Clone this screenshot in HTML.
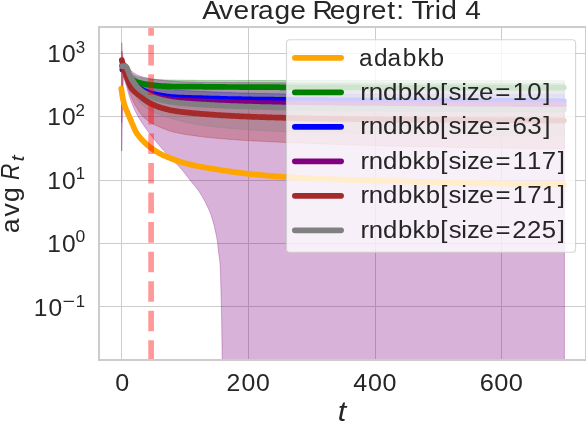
<!DOCTYPE html>
<html lang="en"><head><meta charset="utf-8"><title>Average Regret: Trid 4</title>
<style>html,body{margin:0;padding:0;background:#ffffff;}body{width:586px;height:426px;overflow:hidden;font-family:"Liberation Sans",sans-serif;}svg{display:block;will-change:transform;}</style></head>
<body>
<svg width="586" height="426" viewBox="0 0 586 426" role="img" aria-label="Average Regret: Trid 4" font-family="'Liberation Sans', sans-serif">
<rect width="586" height="426" fill="#ffffff"/>
<defs><clipPath id="ax"><rect x="99.0" y="27.0" width="487.0" height="333.0"/></clipPath></defs>
<g stroke="#cccccc" stroke-width="1.05" shape-rendering="crispEdges">
<line x1="121.5" y1="27.0" x2="121.5" y2="360.0"/>
<line x1="248.5" y1="27.0" x2="248.5" y2="360.0"/>
<line x1="375.5" y1="27.0" x2="375.5" y2="360.0"/>
<line x1="501.5" y1="27.0" x2="501.5" y2="360.0"/>
<line x1="99.0" y1="53.5" x2="586.0" y2="53.5"/>
<line x1="99.0" y1="116.5" x2="586.0" y2="116.5"/>
<line x1="99.0" y1="180.5" x2="586.0" y2="180.5"/>
<line x1="99.0" y1="243.5" x2="586.0" y2="243.5"/>
<line x1="99.0" y1="306.5" x2="586.0" y2="306.5"/>
</g>
<g clip-path="url(#ax)">
<path d="M121.9,85.5 L121.9,85.6 L121.9,85.7 L121.9,85.9 L122.0,86.2 L122.0,86.4 L122.0,86.8 L122.1,87.1 L122.1,87.5 L122.2,87.9 L122.2,88.4 L122.3,88.8 L122.4,89.3 L122.5,89.8 L122.5,90.4 L122.6,90.9 L122.7,91.5 L122.8,92.1 L122.9,92.8 L123.1,93.4 L123.2,94.1 L123.3,94.8 L123.5,95.5 L123.6,96.2 L123.8,97.0 L123.9,97.7 L124.1,98.5 L124.3,99.3 L124.5,100.1 L124.7,100.9 L124.9,101.8 L125.1,102.7 L125.3,103.5 L125.5,104.4 L125.8,105.3 L126.0,106.2 L126.3,107.2 L126.5,108.1 L126.8,109.1 L127.1,110.1 L127.4,111.0 L127.7,112.1 L128.1,113.1 L128.5,114.1 L128.9,115.1 L129.3,116.2 L129.7,117.2 L130.2,118.3 L130.6,119.4 L131.1,120.4 L131.6,121.5 L132.1,122.6 L132.6,123.7 L133.1,124.8 L133.7,125.9 L134.3,127.0 L134.9,128.2 L135.5,129.3 L136.2,130.4 L136.9,131.6 L137.6,132.7 L138.3,133.8 L139.1,135.0 L139.8,136.1 L140.6,137.2 L141.5,138.3 L142.3,139.4 L143.2,140.5 L144.2,141.6 L145.2,142.7 L146.2,143.8 L147.2,144.9 L148.3,145.9 L149.4,146.9 L150.6,147.8 L151.8,148.7 L153.0,149.5 L154.3,150.3 L155.6,151.1 L157.0,151.9 L158.4,152.6 L159.8,153.3 L161.3,154.0 L162.8,154.7 L164.4,155.3 L165.9,155.9 L167.5,156.5 L169.0,157.0 L170.6,157.6 L172.2,158.1 L173.8,158.6 L175.4,159.1 L177.0,159.5 L178.7,160.0 L180.4,160.5 L182.1,160.9 L183.8,161.4 L185.5,161.8 L187.2,162.3 L189.0,162.7 L190.8,163.1 L192.5,163.5 L194.3,163.9 L196.2,164.3 L198.0,164.7 L199.8,165.1 L201.7,165.5 L203.5,165.8 L205.4,166.2 L207.3,166.5 L209.2,166.8 L211.1,167.2 L213.0,167.5 L214.9,167.8 L216.9,168.1 L218.8,168.4 L220.7,168.6 L222.7,168.9 L224.7,169.2 L226.7,169.5 L228.7,169.8 L230.7,170.0 L232.7,170.3 L234.7,170.6 L236.8,170.8 L238.8,171.1 L240.9,171.3 L242.9,171.6 L245.0,171.8 L247.1,172.1 L249.2,172.3 L251.4,172.5 L253.5,172.8 L255.6,173.0 L257.8,173.2 L259.9,173.4 L262.1,173.6 L264.3,173.8 L266.5,174.0 L268.7,174.2 L270.9,174.4 L273.1,174.6 L275.3,174.8 L277.6,174.9 L279.8,175.1 L282.1,175.2 L284.3,175.4 L286.6,175.5 L288.9,175.7 L291.2,175.8 L293.5,175.9 L295.8,176.1 L298.1,176.2 L300.4,176.3 L302.8,176.5 L305.1,176.6 L307.5,176.7 L309.9,176.8 L312.2,177.0 L314.6,177.1 L317.0,177.2 L319.4,177.3 L321.8,177.4 L324.3,177.5 L326.7,177.7 L329.1,177.8 L331.6,177.9 L334.0,178.0 L336.5,178.1 L339.0,178.2 L341.5,178.3 L344.0,178.4 L346.5,178.5 L349.0,178.6 L351.5,178.7 L354.1,178.8 L356.6,178.9 L359.1,179.0 L361.7,179.1 L364.3,179.2 L366.8,179.3 L369.4,179.3 L372.0,179.4 L374.6,179.5 L377.2,179.6 L379.9,179.7 L382.5,179.8 L385.1,179.8 L387.8,179.9 L390.4,180.0 L393.1,180.1 L395.7,180.2 L398.4,180.2 L401.1,180.3 L403.8,180.4 L406.5,180.5 L409.2,180.5 L411.9,180.6 L414.7,180.7 L417.4,180.7 L420.1,180.8 L422.9,180.9 L425.7,180.9 L428.4,181.0 L431.2,181.1 L434.0,181.1 L436.8,181.2 L439.6,181.3 L442.4,181.3 L445.2,181.4 L448.0,181.5 L450.9,181.5 L453.7,181.6 L456.6,181.7 L459.4,181.7 L462.3,181.8 L465.1,181.9 L468.0,181.9 L470.9,182.0 L473.8,182.1 L476.7,182.1 L479.6,182.2 L482.6,182.2 L485.5,182.3 L488.4,182.4 L491.4,182.4 L494.3,182.5 L497.3,182.5 L500.3,182.6 L503.2,182.6 L506.2,182.7 L509.2,182.7 L512.2,182.8 L515.2,182.8 L518.2,182.9 L521.3,182.9 L524.3,183.0 L527.3,183.0 L530.4,183.1 L533.4,183.1 L536.5,183.1 L539.6,183.2 L542.6,183.2 L545.7,183.2 L548.8,183.3 L551.9,183.3 L555.0,183.3 L558.1,183.4 L561.3,183.4 L564.4,183.4 L564.4,185.4 L561.3,185.4 L558.1,185.3 L555.0,185.3 L551.9,185.3 L548.8,185.3 L545.7,185.2 L542.6,185.2 L539.6,185.2 L536.5,185.1 L533.4,185.1 L530.4,185.0 L527.3,185.0 L524.3,184.9 L521.2,184.9 L518.2,184.9 L515.2,184.8 L512.2,184.8 L509.2,184.7 L506.2,184.7 L503.2,184.6 L500.2,184.6 L497.3,184.5 L494.3,184.4 L491.3,184.4 L488.4,184.3 L485.5,184.3 L482.5,184.2 L479.6,184.2 L476.7,184.1 L473.8,184.0 L470.9,184.0 L468.0,183.9 L465.1,183.9 L462.2,183.8 L459.4,183.7 L456.5,183.7 L453.7,183.6 L450.8,183.5 L448.0,183.5 L445.2,183.4 L442.3,183.3 L439.5,183.3 L436.7,183.2 L433.9,183.1 L431.1,183.1 L428.4,183.0 L425.6,182.9 L422.8,182.9 L420.1,182.8 L417.3,182.7 L414.6,182.7 L411.9,182.6 L409.2,182.5 L406.4,182.5 L403.7,182.4 L401.0,182.3 L398.4,182.2 L395.7,182.2 L393.0,182.1 L390.3,182.0 L387.7,181.9 L385.0,181.9 L382.4,181.8 L379.8,181.7 L377.2,181.6 L374.5,181.5 L371.9,181.5 L369.3,181.4 L366.8,181.3 L364.2,181.2 L361.6,181.1 L359.1,181.0 L356.5,180.9 L354.0,180.9 L351.4,180.8 L348.9,180.7 L346.4,180.6 L343.9,180.5 L341.4,180.4 L338.9,180.3 L336.4,180.2 L333.9,180.1 L331.5,180.0 L329.0,179.9 L326.6,179.8 L324.2,179.7 L321.7,179.6 L319.3,179.4 L316.9,179.3 L314.5,179.2 L312.1,179.1 L309.7,179.0 L307.4,178.9 L305.0,178.7 L302.7,178.6 L300.3,178.5 L298.0,178.4 L295.7,178.2 L293.4,178.1 L291.1,178.0 L288.8,177.9 L286.5,177.7 L284.2,177.6 L281.9,177.4 L279.7,177.3 L277.4,177.1 L275.2,177.0 L273.0,176.8 L270.8,176.6 L268.5,176.5 L266.3,176.3 L264.1,176.1 L262.0,175.9 L259.8,175.7 L257.6,175.5 L255.5,175.3 L253.3,175.0 L251.2,174.8 L249.1,174.6 L247.0,174.4 L244.9,174.1 L242.8,173.9 L240.7,173.6 L238.6,173.4 L236.6,173.1 L234.5,172.9 L232.5,172.6 L230.5,172.4 L228.5,172.1 L226.5,171.8 L224.5,171.6 L222.5,171.3 L220.6,171.0 L218.6,170.7 L216.7,170.5 L214.7,170.2 L212.8,169.9 L210.9,169.6 L209.0,169.2 L207.1,168.9 L205.2,168.6 L203.3,168.2 L201.5,167.9 L199.6,167.5 L197.8,167.2 L195.9,166.8 L194.1,166.4 L192.3,166.0 L190.5,165.6 L188.8,165.2 L187.0,164.8 L185.3,164.4 L183.5,163.9 L181.8,163.5 L180.1,163.0 L178.5,162.6 L176.8,162.1 L175.2,161.6 L173.6,161.2 L171.9,160.7 L170.4,160.2 L168.8,159.7 L167.2,159.1 L165.7,158.6 L164.1,157.9 L162.6,157.3 L161.1,156.6 L159.6,156.0 L158.1,155.2 L156.7,154.5 L155.3,153.7 L154.0,153.0 L152.7,152.2 L151.5,151.3 L150.3,150.5 L149.2,149.5 L148.1,148.5 L147.0,147.5 L145.9,146.4 L144.9,145.3 L143.9,144.2 L143.0,143.1 L142.1,142.0 L141.2,140.9 L140.4,139.8 L139.6,138.7 L138.8,137.6 L138.1,136.4 L137.3,135.3 L136.6,134.2 L135.9,133.0 L135.3,131.9 L134.6,130.8 L134.0,129.6 L133.4,128.5 L132.9,127.4 L132.3,126.3 L131.8,125.2 L131.3,124.1 L130.8,123.0 L130.4,121.9 L129.9,120.9 L129.5,119.8 L129.1,118.7 L128.7,117.7 L128.3,116.7 L127.9,115.6 L127.6,114.6 L127.3,113.6 L127.0,112.6 L126.7,111.6 L126.4,110.7 L126.2,109.7 L125.9,108.8 L125.7,107.9 L125.4,106.9 L125.2,106.1 L125.0,105.2 L124.8,104.3 L124.6,103.5 L124.4,102.6 L124.2,101.8 L124.0,101.0 L123.9,100.2 L123.7,99.5 L123.6,98.7 L123.4,98.0 L123.3,97.3 L123.2,96.6 L123.0,95.9 L122.9,95.3 L122.8,94.7 L122.7,94.0 L122.6,93.5 L122.5,92.9 L122.4,92.3 L122.4,91.8 L122.3,91.3 L122.2,90.9 L122.2,90.4 L122.1,90.0 L122.1,89.6 L122.0,89.3 L122.0,88.9 L122.0,88.7 L121.9,88.4 L121.9,88.2 L121.9,88.1 L121.9,88.0Z" fill="#ffa500" fill-opacity="0.3" stroke="#ffa500" stroke-opacity="0.3" stroke-width="1" stroke-linejoin="round"/>
<path d="M121.9,65.0 L121.9,65.0 L122.0,65.1 L122.2,65.3 L122.3,65.4 L122.5,65.6 L122.7,65.8 L123.0,66.0 L123.2,66.3 L123.5,66.5 L123.8,66.8 L124.1,67.1 L124.4,67.4 L124.8,67.8 L125.1,68.1 L125.5,68.5 L125.9,68.9 L126.2,69.3 L126.7,69.7 L127.1,70.1 L127.5,70.6 L128.0,71.0 L128.5,71.4 L129.0,71.9 L129.5,72.4 L130.1,72.8 L130.7,73.3 L131.2,73.7 L131.9,74.2 L132.5,74.6 L133.2,75.0 L133.9,75.4 L134.7,75.7 L135.5,76.1 L136.3,76.4 L137.1,76.7 L137.9,76.9 L138.8,77.2 L139.7,77.4 L140.6,77.6 L141.6,77.8 L142.5,78.0 L143.5,78.2 L144.5,78.4 L145.4,78.5 L146.5,78.7 L147.5,78.8 L148.5,78.9 L149.6,79.0 L150.7,79.1 L151.7,79.2 L152.8,79.3 L154.0,79.4 L155.1,79.4 L156.2,79.5 L157.4,79.5 L158.5,79.6 L159.7,79.7 L160.9,79.7 L162.1,79.8 L163.3,79.8 L164.6,79.9 L165.8,79.9 L167.1,80.0 L168.3,80.0 L169.6,80.1 L170.9,80.1 L172.2,80.1 L173.5,80.1 L174.8,80.1 L176.2,80.2 L177.5,80.2 L178.9,80.2 L180.2,80.2 L181.6,80.2 L183.0,80.2 L184.4,80.2 L185.8,80.3 L187.2,80.3 L188.7,80.3 L190.1,80.3 L191.6,80.3 L193.1,80.3 L194.5,80.3 L196.0,80.3 L197.5,80.4 L199.0,80.4 L200.6,80.4 L202.1,80.4 L203.6,80.4 L205.2,80.4 L206.8,80.4 L208.3,80.4 L209.9,80.4 L211.5,80.4 L213.1,80.4 L214.7,80.4 L216.4,80.4 L218.0,80.4 L219.6,80.4 L221.3,80.4 L223.0,80.4 L224.6,80.4 L226.3,80.4 L228.0,80.4 L229.7,80.4 L231.4,80.4 L233.2,80.4 L234.9,80.4 L236.7,80.4 L238.4,80.5 L240.2,80.5 L241.9,80.5 L243.7,80.5 L245.5,80.5 L247.3,80.5 L249.1,80.5 L251.0,80.5 L252.8,80.5 L254.6,80.5 L256.5,80.5 L258.3,80.5 L260.2,80.5 L262.1,80.5 L264.0,80.5 L265.9,80.5 L267.8,80.5 L269.7,80.5 L271.6,80.5 L273.5,80.5 L275.5,80.5 L277.4,80.5 L279.4,80.5 L281.3,80.5 L283.3,80.5 L285.3,80.5 L287.3,80.5 L289.3,80.5 L291.3,80.5 L293.3,80.5 L295.4,80.5 L297.4,80.5 L299.4,80.5 L301.5,80.5 L303.6,80.5 L305.6,80.5 L307.7,80.5 L309.8,80.5 L311.9,80.5 L314.0,80.5 L316.1,80.5 L318.2,80.5 L320.4,80.5 L322.5,80.5 L324.7,80.5 L326.8,80.5 L329.0,80.5 L331.2,80.5 L333.3,80.5 L335.5,80.5 L337.7,80.6 L339.9,80.6 L342.1,80.6 L344.4,80.6 L346.6,80.6 L348.8,80.6 L351.1,80.6 L353.3,80.6 L355.6,80.6 L357.9,80.6 L360.2,80.6 L362.4,80.6 L364.7,80.6 L367.0,80.6 L369.4,80.6 L371.7,80.6 L374.0,80.6 L376.3,80.6 L378.7,80.6 L381.0,80.6 L383.4,80.6 L385.8,80.6 L388.1,80.6 L390.5,80.6 L392.9,80.6 L395.3,80.6 L397.7,80.6 L400.1,80.6 L402.6,80.6 L405.0,80.6 L407.4,80.6 L409.9,80.6 L412.3,80.6 L414.8,80.6 L417.3,80.6 L419.7,80.6 L422.2,80.6 L424.7,80.6 L427.2,80.6 L429.7,80.6 L432.2,80.6 L434.7,80.6 L437.3,80.6 L439.8,80.6 L442.4,80.6 L444.9,80.6 L447.5,80.6 L450.0,80.6 L452.6,80.6 L455.2,80.6 L457.8,80.6 L460.4,80.6 L463.0,80.6 L465.6,80.6 L468.2,80.6 L470.8,80.6 L473.5,80.7 L476.1,80.7 L478.8,80.7 L481.4,80.7 L484.1,80.7 L486.7,80.7 L489.4,80.7 L492.1,80.7 L494.8,80.7 L497.5,80.7 L500.2,80.7 L502.9,80.7 L505.6,80.7 L508.4,80.7 L511.1,80.7 L513.8,80.7 L516.6,80.7 L519.3,80.7 L522.1,80.7 L524.9,80.7 L527.7,80.7 L530.4,80.7 L533.2,80.7 L536.0,80.7 L538.8,80.7 L541.6,80.7 L544.5,80.7 L547.3,80.7 L550.1,80.7 L553.0,80.7 L555.8,80.7 L558.7,80.7 L561.5,80.7 L564.4,80.7 L564.4,97.2 L561.5,97.2 L558.6,97.2 L555.7,97.2 L552.8,97.2 L549.9,97.2 L547.0,97.2 L544.1,97.2 L541.3,97.2 L538.4,97.2 L535.6,97.2 L532.7,97.2 L529.9,97.2 L527.0,97.2 L524.2,97.2 L521.4,97.2 L518.6,97.2 L515.8,97.2 L513.0,97.2 L510.2,97.2 L507.4,97.2 L504.7,97.2 L501.9,97.2 L499.1,97.2 L496.4,97.2 L493.6,97.2 L490.9,97.2 L488.2,97.2 L485.5,97.2 L482.7,97.2 L480.0,97.2 L477.3,97.2 L474.7,97.2 L472.0,97.2 L469.3,97.2 L466.6,97.2 L464.0,97.2 L461.3,97.2 L458.7,97.2 L456.0,97.1 L453.4,97.1 L450.8,97.1 L448.1,97.1 L445.5,97.1 L442.9,97.1 L440.3,97.1 L437.8,97.1 L435.2,97.1 L432.6,97.1 L430.0,97.1 L427.5,97.1 L424.9,97.1 L422.4,97.1 L419.9,97.1 L417.3,97.1 L414.8,97.1 L412.3,97.1 L409.8,97.1 L407.3,97.1 L404.8,97.1 L402.4,97.1 L399.9,97.1 L397.4,97.1 L395.0,97.1 L392.5,97.1 L390.1,97.1 L387.7,97.1 L385.2,97.1 L382.8,97.1 L380.4,97.1 L378.0,97.1 L375.6,97.1 L373.2,97.1 L370.9,97.1 L368.5,97.1 L366.1,97.1 L363.8,97.1 L361.4,97.1 L359.1,97.1 L356.8,97.1 L354.5,97.0 L352.2,97.0 L349.9,97.0 L347.6,97.0 L345.3,97.0 L343.0,97.0 L340.7,97.0 L338.5,97.0 L336.2,97.0 L334.0,97.0 L331.7,97.0 L329.5,97.0 L327.3,97.0 L325.1,97.0 L322.9,97.0 L320.7,97.0 L318.5,97.0 L316.3,97.0 L314.2,97.0 L312.0,97.0 L309.9,97.0 L307.7,97.0 L305.6,97.0 L303.5,97.0 L301.4,96.9 L299.3,96.9 L297.2,96.9 L295.1,96.9 L293.0,96.9 L290.9,96.9 L288.9,96.9 L286.8,96.9 L284.8,96.9 L282.7,96.9 L280.7,96.9 L278.7,96.9 L276.7,96.9 L274.7,96.9 L272.7,96.9 L270.7,96.8 L268.7,96.8 L266.8,96.8 L264.8,96.8 L262.9,96.8 L260.9,96.8 L259.0,96.8 L257.1,96.8 L255.2,96.8 L253.3,96.7 L251.4,96.7 L249.5,96.7 L247.6,96.7 L245.8,96.7 L243.9,96.7 L242.1,96.6 L240.3,96.6 L238.4,96.6 L236.6,96.6 L234.8,96.6 L233.0,96.6 L231.2,96.5 L229.5,96.5 L227.7,96.5 L226.0,96.5 L224.2,96.5 L222.5,96.5 L220.8,96.4 L219.0,96.4 L217.3,96.4 L215.6,96.4 L214.0,96.4 L212.3,96.3 L210.6,96.3 L209.0,96.3 L207.3,96.3 L205.7,96.2 L204.1,96.2 L202.5,96.2 L200.9,96.2 L199.3,96.1 L197.7,96.1 L196.1,96.1 L194.6,96.0 L193.0,96.0 L191.5,96.0 L189.9,95.9 L188.4,95.9 L186.9,95.8 L185.4,95.8 L184.0,95.8 L182.5,95.7 L181.0,95.7 L179.6,95.6 L178.1,95.6 L176.7,95.5 L175.3,95.4 L173.9,95.4 L172.5,95.3 L171.1,95.3 L169.8,95.2 L168.4,95.1 L167.1,95.0 L165.7,94.8 L164.4,94.7 L163.1,94.6 L161.8,94.4 L160.6,94.3 L159.3,94.1 L158.0,93.9 L156.8,93.8 L155.6,93.6 L154.4,93.3 L153.2,93.1 L152.0,92.9 L150.9,92.6 L149.7,92.4 L148.6,92.1 L147.5,91.8 L146.4,91.5 L145.3,91.2 L144.2,90.9 L143.2,90.6 L142.2,90.2 L141.2,89.8 L140.2,89.3 L139.3,88.9 L138.4,88.4 L137.5,87.8 L136.7,87.3 L136.0,86.7 L135.2,86.1 L134.5,85.4 L133.8,84.8 L133.1,84.1 L132.5,83.5 L131.9,82.9 L131.3,82.2 L130.7,81.6 L130.2,80.9 L129.6,80.3 L129.2,79.6 L128.7,79.0 L128.2,78.3 L127.8,77.7 L127.4,77.1 L127.0,76.5 L126.6,75.9 L126.3,75.3 L126.0,74.7 L125.6,74.1 L125.3,73.6 L125.0,73.0 L124.7,72.5 L124.5,72.0 L124.2,71.5 L123.9,71.1 L123.7,70.6 L123.5,70.2 L123.3,69.8 L123.1,69.4 L122.9,69.0 L122.7,68.7 L122.6,68.4 L122.4,68.1 L122.3,67.8 L122.2,67.6 L122.1,67.3 L122.0,67.2 L121.9,67.1 L121.9,67.0Z" fill="#008000" fill-opacity="0.3" stroke="#008000" stroke-opacity="0.3" stroke-width="1" stroke-linejoin="round"/>
<path d="M121.9,63.0 L121.9,63.1 L122.0,63.2 L122.1,63.3 L122.2,63.5 L122.4,63.7 L122.6,64.0 L122.8,64.2 L123.0,64.5 L123.2,64.8 L123.4,65.2 L123.7,65.5 L123.9,65.9 L124.2,66.3 L124.5,66.7 L124.8,67.2 L125.1,67.6 L125.4,68.1 L125.7,68.6 L126.1,69.1 L126.4,69.6 L126.7,70.2 L127.1,70.7 L127.5,71.3 L127.9,71.9 L128.3,72.5 L128.8,73.1 L129.2,73.7 L129.7,74.3 L130.2,74.9 L130.7,75.5 L131.2,76.2 L131.8,76.8 L132.4,77.4 L133.0,78.0 L133.7,78.6 L134.4,79.2 L135.1,79.8 L135.8,80.4 L136.6,80.9 L137.4,81.4 L138.2,81.9 L139.1,82.4 L140.0,82.8 L141.0,83.2 L141.9,83.5 L142.9,83.9 L144.0,84.2 L145.0,84.5 L146.1,84.8 L147.1,85.0 L148.2,85.4 L149.3,85.7 L150.4,86.0 L151.5,86.4 L152.6,86.7 L153.7,87.1 L154.9,87.4 L156.1,87.7 L157.3,88.0 L158.5,88.2 L159.7,88.4 L160.9,88.6 L162.2,88.8 L163.4,88.9 L164.7,89.1 L166.0,89.2 L167.3,89.4 L168.7,89.5 L170.0,89.6 L171.3,89.7 L172.7,89.9 L174.1,90.0 L175.5,90.1 L176.8,90.2 L178.3,90.2 L179.7,90.3 L181.1,90.4 L182.5,90.5 L184.0,90.6 L185.5,90.7 L186.9,90.8 L188.4,90.8 L189.9,90.9 L191.4,91.0 L192.9,91.1 L194.5,91.1 L196.0,91.2 L197.6,91.3 L199.1,91.3 L200.7,91.4 L202.3,91.5 L203.9,91.5 L205.5,91.6 L207.1,91.7 L208.7,91.7 L210.4,91.8 L212.0,91.9 L213.7,92.0 L215.3,92.0 L217.0,92.1 L218.7,92.2 L220.4,92.2 L222.1,92.3 L223.8,92.4 L225.5,92.4 L227.3,92.5 L229.0,92.5 L230.8,92.6 L232.5,92.7 L234.3,92.7 L236.1,92.8 L237.9,92.9 L239.7,92.9 L241.5,93.0 L243.3,93.0 L245.2,93.1 L247.0,93.1 L248.9,93.2 L250.7,93.2 L252.6,93.3 L254.5,93.3 L256.4,93.4 L258.3,93.4 L260.2,93.5 L262.1,93.5 L264.0,93.5 L266.0,93.6 L267.9,93.6 L269.9,93.7 L271.8,93.7 L273.8,93.8 L275.8,93.8 L277.8,93.8 L279.8,93.8 L281.8,93.9 L283.8,93.9 L285.8,93.9 L287.9,93.9 L289.9,93.9 L292.0,94.0 L294.0,94.0 L296.1,94.0 L298.2,94.0 L300.3,94.0 L302.4,94.0 L304.5,94.0 L306.6,94.1 L308.7,94.1 L310.8,94.1 L313.0,94.1 L315.1,94.1 L317.3,94.1 L319.5,94.1 L321.6,94.1 L323.8,94.2 L326.0,94.2 L328.2,94.2 L330.4,94.2 L332.6,94.2 L334.9,94.2 L337.1,94.2 L339.3,94.2 L341.6,94.2 L343.8,94.2 L346.1,94.3 L348.4,94.3 L350.7,94.3 L353.0,94.3 L355.3,94.3 L357.6,94.3 L359.9,94.3 L362.2,94.3 L364.6,94.3 L366.9,94.3 L369.2,94.3 L371.6,94.3 L374.0,94.3 L376.3,94.3 L378.7,94.4 L381.1,94.4 L383.5,94.4 L385.9,94.4 L388.3,94.4 L390.8,94.4 L393.2,94.4 L395.6,94.4 L398.1,94.4 L400.5,94.4 L403.0,94.4 L405.4,94.4 L407.9,94.4 L410.4,94.4 L412.9,94.4 L415.4,94.4 L417.9,94.4 L420.4,94.4 L422.9,94.4 L425.5,94.4 L428.0,94.5 L430.6,94.5 L433.1,94.5 L435.7,94.5 L438.2,94.5 L440.8,94.5 L443.4,94.5 L446.0,94.5 L448.6,94.5 L451.2,94.5 L453.8,94.5 L456.4,94.5 L459.1,94.5 L461.7,94.5 L464.3,94.5 L467.0,94.5 L469.7,94.5 L472.3,94.5 L475.0,94.5 L477.7,94.5 L480.4,94.5 L483.1,94.5 L485.8,94.5 L488.5,94.5 L491.2,94.6 L493.9,94.6 L496.7,94.6 L499.4,94.6 L502.1,94.6 L504.9,94.6 L507.7,94.6 L510.4,94.6 L513.2,94.6 L516.0,94.6 L518.8,94.6 L521.6,94.6 L524.4,94.6 L527.2,94.6 L530.0,94.6 L532.8,94.6 L535.7,94.6 L538.5,94.6 L541.4,94.6 L544.2,94.6 L547.1,94.6 L549.9,94.6 L552.8,94.6 L555.7,94.6 L558.6,94.6 L561.5,94.6 L564.4,94.6 L564.4,107.8 L561.5,107.8 L558.5,107.8 L555.6,107.8 L552.7,107.8 L549.8,107.8 L546.9,107.8 L544.0,107.8 L541.1,107.8 L538.2,107.8 L535.4,107.8 L532.5,107.8 L529.6,107.8 L526.8,107.8 L523.9,107.8 L521.1,107.8 L518.3,107.8 L515.4,107.8 L512.6,107.8 L509.8,107.8 L507.0,107.8 L504.2,107.8 L501.4,107.7 L498.7,107.7 L495.9,107.7 L493.1,107.7 L490.4,107.7 L487.6,107.7 L484.9,107.7 L482.2,107.7 L479.4,107.7 L476.7,107.7 L474.0,107.7 L471.3,107.7 L468.6,107.7 L465.9,107.7 L463.2,107.7 L460.6,107.7 L457.9,107.7 L455.2,107.7 L452.6,107.6 L449.9,107.6 L447.3,107.6 L444.7,107.6 L442.1,107.6 L439.4,107.6 L436.8,107.6 L434.2,107.6 L431.7,107.6 L429.1,107.6 L426.5,107.6 L423.9,107.6 L421.4,107.6 L418.8,107.6 L416.3,107.5 L413.7,107.5 L411.2,107.5 L408.7,107.5 L406.2,107.5 L403.7,107.5 L401.2,107.5 L398.7,107.5 L396.2,107.5 L393.7,107.5 L391.3,107.5 L388.8,107.5 L386.4,107.5 L383.9,107.4 L381.5,107.4 L379.1,107.4 L376.7,107.4 L374.2,107.4 L371.8,107.4 L369.5,107.4 L367.1,107.4 L364.7,107.4 L362.3,107.4 L360.0,107.3 L357.6,107.3 L355.3,107.3 L352.9,107.3 L350.6,107.3 L348.3,107.3 L346.0,107.3 L343.7,107.3 L341.4,107.2 L339.1,107.2 L336.8,107.2 L334.6,107.2 L332.3,107.2 L330.1,107.2 L327.8,107.1 L325.6,107.1 L323.4,107.1 L321.1,107.1 L318.9,107.1 L316.7,107.0 L314.5,107.0 L312.4,107.0 L310.2,107.0 L308.0,107.0 L305.9,106.9 L303.7,106.9 L301.6,106.9 L299.4,106.9 L297.3,106.9 L295.2,106.8 L293.1,106.8 L291.0,106.8 L288.9,106.8 L286.9,106.7 L284.8,106.7 L282.7,106.7 L280.7,106.6 L278.6,106.6 L276.6,106.5 L274.6,106.5 L272.6,106.4 L270.6,106.3 L268.6,106.3 L266.6,106.2 L264.6,106.1 L262.6,106.0 L260.7,106.0 L258.7,105.9 L256.8,105.8 L254.9,105.7 L253.0,105.6 L251.0,105.5 L249.1,105.5 L247.3,105.4 L245.4,105.3 L243.5,105.2 L241.6,105.1 L239.8,105.0 L238.0,104.9 L236.1,104.8 L234.3,104.7 L232.5,104.5 L230.7,104.4 L228.9,104.3 L227.1,104.2 L225.3,104.1 L223.6,103.9 L221.8,103.8 L220.1,103.7 L218.3,103.6 L216.6,103.5 L214.9,103.3 L213.2,103.2 L211.5,103.1 L209.8,103.0 L208.2,102.9 L206.5,102.8 L204.8,102.7 L203.2,102.5 L201.6,102.4 L200.0,102.3 L198.3,102.2 L196.7,102.1 L195.1,102.0 L193.6,101.9 L192.0,101.8 L190.4,101.7 L188.9,101.6 L187.4,101.5 L185.8,101.3 L184.3,101.2 L182.8,101.1 L181.3,101.0 L179.9,100.8 L178.4,100.7 L177.0,100.5 L175.5,100.4 L174.1,100.2 L172.7,100.1 L171.3,99.9 L169.9,99.7 L168.5,99.5 L167.2,99.3 L165.8,99.1 L164.5,98.8 L163.1,98.5 L161.8,98.3 L160.6,98.0 L159.3,97.7 L158.0,97.4 L156.8,97.1 L155.6,96.7 L154.4,96.3 L153.2,95.9 L152.0,95.5 L150.9,95.1 L149.7,94.7 L148.6,94.2 L147.5,93.8 L146.5,93.3 L145.4,92.9 L144.4,92.4 L143.3,91.9 L142.3,91.4 L141.4,90.8 L140.4,90.3 L139.5,89.7 L138.7,89.1 L137.8,88.5 L137.0,87.9 L136.2,87.2 L135.5,86.5 L134.8,85.8 L134.1,85.1 L133.5,84.4 L132.9,83.6 L132.3,82.9 L131.8,82.2 L131.3,81.5 L130.8,80.7 L130.3,80.0 L129.9,79.3 L129.5,78.5 L129.0,77.8 L128.6,77.1 L128.3,76.4 L127.9,75.8 L127.5,75.1 L127.1,74.5 L126.8,73.9 L126.5,73.2 L126.2,72.6 L125.9,72.1 L125.5,71.5 L125.3,71.0 L125.0,70.4 L124.7,69.9 L124.4,69.4 L124.2,69.0 L123.9,68.5 L123.7,68.1 L123.4,67.7 L123.2,67.3 L123.0,67.0 L122.8,66.6 L122.6,66.3 L122.5,66.0 L122.3,65.8 L122.2,65.5 L122.1,65.3 L122.0,65.2 L121.9,65.1 L121.9,65.0Z" fill="#0000ff" fill-opacity="0.3" stroke="#0000ff" stroke-opacity="0.3" stroke-width="1" stroke-linejoin="round"/>
<path d="M121.7,51.0 L122.3,55.5 L123.2,60.5 L123.2,60.6 L123.3,60.7 L123.4,60.8 L123.5,61.0 L123.6,61.3 L123.7,61.5 L123.9,61.8 L124.1,62.1 L124.3,62.4 L124.5,62.8 L124.7,63.1 L125.0,63.5 L125.3,63.9 L125.6,64.3 L125.9,64.7 L126.3,65.1 L126.7,65.5 L127.1,66.0 L127.5,66.4 L127.9,66.9 L128.3,67.4 L128.7,67.9 L129.2,68.4 L129.6,68.9 L130.1,69.5 L130.6,70.0 L131.1,70.6 L131.6,71.1 L132.2,71.7 L132.8,72.2 L133.4,72.7 L134.1,73.1 L134.8,73.6 L135.6,74.1 L136.4,74.5 L137.2,74.9 L138.0,75.3 L138.8,75.6 L139.7,76.0 L140.6,76.3 L141.6,76.6 L142.5,76.9 L143.5,77.1 L144.4,77.4 L145.4,77.6 L146.4,77.8 L147.5,78.1 L148.5,78.3 L149.6,78.5 L150.7,78.7 L151.7,78.9 L152.9,79.1 L154.0,79.2 L155.1,79.4 L156.2,79.6 L157.4,79.8 L158.6,79.9 L159.8,80.1 L161.0,80.2 L162.2,80.3 L163.4,80.5 L164.6,80.6 L165.9,80.7 L167.2,80.8 L168.4,80.9 L169.7,81.1 L171.0,81.1 L172.3,81.2 L173.7,81.3 L175.0,81.4 L176.3,81.5 L177.7,81.5 L179.1,81.6 L180.5,81.7 L181.9,81.7 L183.3,81.8 L184.7,81.8 L186.1,81.9 L187.6,81.9 L189.0,82.0 L190.5,82.0 L191.9,82.1 L193.4,82.1 L194.9,82.1 L196.4,82.2 L197.9,82.2 L199.5,82.2 L201.0,82.3 L202.6,82.3 L204.1,82.3 L205.7,82.3 L207.3,82.4 L208.9,82.4 L210.5,82.4 L212.1,82.4 L213.7,82.4 L215.3,82.4 L217.0,82.5 L218.6,82.5 L220.3,82.5 L221.9,82.5 L223.6,82.5 L225.3,82.5 L227.0,82.5 L228.7,82.5 L230.4,82.6 L232.2,82.6 L233.9,82.6 L235.7,82.6 L237.4,82.6 L239.2,82.6 L241.0,82.6 L242.8,82.6 L244.6,82.6 L246.4,82.6 L248.2,82.6 L250.0,82.7 L251.8,82.7 L253.7,82.7 L255.5,82.7 L257.4,82.7 L259.3,82.7 L261.2,82.7 L263.1,82.7 L265.0,82.7 L266.9,82.7 L268.8,82.7 L270.7,82.7 L272.6,82.7 L274.6,82.8 L276.5,82.8 L278.5,82.8 L280.5,82.8 L282.5,82.8 L284.5,82.8 L286.5,82.8 L288.5,82.8 L290.5,82.8 L292.5,82.8 L294.5,82.8 L296.6,82.9 L298.6,82.9 L300.7,82.9 L302.8,82.9 L304.8,82.9 L306.9,82.9 L309.0,82.9 L311.1,82.9 L313.2,82.9 L315.4,82.9 L317.5,83.0 L319.6,83.0 L321.8,83.0 L323.9,83.0 L326.1,83.0 L328.3,83.0 L330.4,83.0 L332.6,83.0 L334.8,83.0 L337.0,83.1 L339.2,83.1 L341.5,83.1 L343.7,83.1 L345.9,83.1 L348.2,83.1 L350.4,83.1 L352.7,83.1 L355.0,83.1 L357.3,83.1 L359.5,83.2 L361.8,83.2 L364.1,83.2 L366.4,83.2 L368.8,83.2 L371.1,83.2 L373.4,83.2 L375.8,83.2 L378.1,83.2 L380.5,83.2 L382.8,83.2 L385.2,83.3 L387.6,83.3 L390.0,83.3 L392.4,83.3 L394.8,83.3 L397.2,83.3 L399.6,83.3 L402.1,83.3 L404.5,83.3 L406.9,83.3 L409.4,83.3 L411.9,83.3 L414.3,83.3 L416.8,83.3 L419.3,83.4 L421.8,83.4 L424.3,83.4 L426.8,83.4 L429.3,83.4 L431.8,83.4 L434.4,83.4 L436.9,83.4 L439.4,83.4 L442.0,83.4 L444.5,83.4 L447.1,83.4 L449.7,83.4 L452.3,83.4 L454.9,83.4 L457.5,83.4 L460.1,83.4 L462.7,83.5 L465.3,83.5 L467.9,83.5 L470.6,83.5 L473.2,83.5 L475.8,83.5 L478.5,83.5 L481.2,83.5 L483.8,83.5 L486.5,83.5 L489.2,83.5 L491.9,83.5 L494.6,83.5 L497.3,83.5 L500.0,83.5 L502.7,83.5 L505.5,83.5 L508.2,83.5 L510.9,83.5 L513.7,83.6 L516.4,83.6 L519.2,83.6 L522.0,83.6 L524.8,83.6 L527.5,83.6 L530.3,83.6 L533.1,83.6 L535.9,83.6 L538.8,83.6 L541.6,83.6 L544.4,83.6 L547.2,83.6 L550.1,83.6 L552.9,83.6 L555.8,83.6 L558.7,83.6 L561.5,83.6 L564.4,83.6 L564.4,372.0 L222.3,372.0 L222.3,370.7 L222.3,369.4 L222.3,368.1 L222.3,366.8 L222.2,365.5 L222.2,364.2 L222.2,362.9 L222.2,361.7 L222.2,360.4 L222.2,359.1 L222.2,357.8 L222.2,356.5 L222.1,355.3 L222.1,354.0 L222.1,352.7 L222.1,351.4 L222.1,350.2 L222.1,348.9 L222.0,347.6 L222.0,346.4 L222.0,345.1 L222.0,343.9 L222.0,342.6 L222.0,341.3 L221.9,340.1 L221.9,338.8 L221.9,337.6 L221.9,336.3 L221.9,335.1 L221.9,333.9 L221.8,332.6 L221.8,331.4 L221.8,330.1 L221.8,328.9 L221.8,327.7 L221.7,326.5 L221.7,325.2 L221.7,324.0 L221.7,322.8 L221.7,321.6 L221.6,320.3 L221.6,319.1 L221.6,317.9 L221.6,316.7 L221.5,315.5 L221.5,314.3 L221.5,313.1 L221.5,311.8 L221.4,310.6 L221.4,309.4 L221.4,308.2 L221.4,307.0 L221.3,305.9 L221.3,304.7 L221.3,303.5 L221.3,302.3 L221.2,301.1 L221.2,299.9 L221.2,298.7 L221.1,297.5 L221.1,296.4 L221.1,295.2 L221.1,294.0 L221.0,292.8 L221.0,291.7 L221.0,290.5 L220.9,289.3 L220.9,288.2 L220.9,287.0 L220.8,285.9 L220.8,284.7 L220.8,283.5 L220.7,282.4 L220.7,281.2 L220.7,280.1 L220.6,278.9 L220.6,277.8 L220.6,276.7 L220.5,275.5 L220.5,274.4 L220.5,273.2 L220.4,272.1 L220.4,271.0 L220.3,269.8 L220.3,268.7 L220.2,267.6 L220.2,266.5 L220.1,265.4 L220.1,264.2 L220.0,263.1 L219.9,262.0 L219.8,260.9 L219.6,259.8 L219.5,258.7 L219.3,257.6 L219.2,256.5 L219.0,255.4 L218.9,254.3 L218.7,253.2 L218.6,252.2 L218.5,251.1 L218.4,250.0 L218.3,248.9 L218.1,247.8 L218.0,246.7 L217.9,245.7 L217.8,244.6 L217.7,243.5 L217.5,242.5 L217.4,241.4 L217.2,240.3 L217.0,239.3 L216.9,238.2 L216.7,237.2 L216.5,236.1 L216.3,235.1 L216.0,234.1 L215.8,233.0 L215.6,232.0 L215.4,231.0 L215.2,230.0 L214.9,228.9 L214.7,227.9 L214.5,226.9 L214.2,225.9 L214.0,224.9 L213.7,223.9 L213.4,222.9 L213.2,221.9 L212.9,220.9 L212.6,219.9 L212.3,218.9 L212.0,217.9 L211.7,217.0 L211.4,216.0 L211.1,215.1 L210.7,214.1 L210.4,213.2 L210.0,212.2 L209.6,211.3 L209.2,210.4 L208.8,209.5 L208.4,208.5 L208.0,207.6 L207.5,206.7 L207.1,205.8 L206.7,205.0 L206.2,204.1 L205.8,203.2 L205.4,202.3 L204.9,201.4 L204.5,200.6 L204.0,199.7 L203.5,198.9 L203.1,198.0 L202.6,197.2 L202.1,196.3 L201.6,195.5 L201.1,194.7 L200.6,193.9 L200.1,193.1 L199.6,192.3 L199.0,191.5 L198.5,190.7 L198.0,189.9 L197.4,189.2 L196.8,188.4 L196.3,187.7 L195.7,187.0 L195.1,186.2 L194.5,185.5 L193.9,184.8 L193.3,184.1 L192.7,183.4 L192.1,182.6 L191.5,181.9 L191.0,181.2 L190.4,180.5 L189.8,179.8 L189.3,179.1 L188.7,178.4 L188.2,177.6 L187.6,176.9 L187.1,176.2 L186.5,175.5 L186.0,174.8 L185.4,174.1 L184.9,173.4 L184.3,172.7 L183.8,172.0 L183.2,171.3 L182.7,170.6 L182.1,170.0 L181.5,169.3 L181.0,168.7 L180.4,168.0 L179.8,167.4 L179.2,166.8 L178.6,166.1 L178.0,165.5 L177.4,164.9 L176.8,164.3 L176.2,163.7 L175.6,163.1 L175.0,162.5 L174.4,161.9 L173.8,161.3 L173.3,160.7 L172.7,160.1 L172.1,159.5 L171.5,158.9 L171.0,158.3 L170.4,157.7 L169.8,157.1 L169.3,156.5 L168.7,155.9 L168.2,155.3 L167.6,154.7 L167.1,154.1 L166.5,153.5 L166.0,152.9 L165.4,152.3 L164.9,151.7 L164.4,151.1 L163.8,150.5 L163.3,150.0 L162.8,149.4 L162.3,148.8 L161.7,148.2 L161.2,147.6 L160.7,147.0 L160.2,146.5 L159.7,145.9 L159.2,145.3 L158.7,144.7 L158.2,144.1 L157.7,143.6 L157.2,143.0 L156.7,142.4 L156.3,141.8 L155.8,141.2 L155.3,140.7 L154.8,140.1 L154.4,139.5 L153.9,139.0 L153.4,138.4 L153.0,137.8 L152.5,137.2 L152.1,136.7 L151.6,136.1 L151.2,135.5 L150.8,135.0 L150.3,134.4 L149.9,133.8 L149.5,133.3 L149.0,132.7 L148.6,132.2 L148.2,131.6 L147.8,131.0 L147.4,130.5 L147.0,129.9 L146.6,129.4 L146.2,128.8 L145.8,128.3 L145.4,127.7 L145.0,127.2 L144.6,126.6 L144.2,126.1 L143.8,125.5 L143.4,125.0 L143.1,124.4 L142.7,123.9 L142.4,123.3 L142.0,122.8 L141.6,122.3 L141.3,121.7 L140.9,121.2 L140.6,120.6 L140.3,120.1 L139.9,119.6 L139.6,119.0 L139.3,118.5 L138.9,118.0 L138.6,117.4 L138.3,116.9 L138.0,116.4 L137.7,115.9 L137.4,115.3 L137.1,114.8 L136.8,114.3 L136.6,113.7 L136.3,113.2 L136.0,112.7 L135.8,112.2 L135.5,111.6 L135.3,111.1 L135.0,110.6 L134.8,110.1 L134.5,109.6 L134.3,109.0 L134.1,108.5 L133.9,108.0 L133.6,107.5 L133.4,107.0 L133.2,106.5 L133.0,106.0 L132.8,105.5 L132.6,105.0 L132.4,104.5 L132.2,104.0 L132.0,103.5 L131.8,103.0 L131.6,102.5 L131.4,102.1 L131.3,101.6 L131.1,101.1 L130.9,100.6 L130.8,100.2 L130.6,99.7 L130.4,99.2 L130.3,98.8 L130.1,98.3 L130.0,97.8 L129.8,97.4 L129.7,96.9 L129.5,96.5 L129.4,96.0 L129.2,95.6 L129.1,95.1 L129.0,94.7 L128.8,94.3 L128.7,93.9 L128.6,93.4 L128.4,93.0 L128.3,92.6 L128.2,92.2 L128.0,91.8 L127.9,91.4 L127.8,91.0 L127.7,90.6 L127.6,90.2 L127.4,89.8 L127.3,89.4 L127.2,89.0 L127.1,88.6 L127.0,88.3 L126.9,87.9 L126.8,87.5 L126.7,87.2 L126.6,86.8 L126.5,86.5 L126.4,86.1 L126.3,85.8 L126.2,85.4 L126.1,85.1 L126.0,84.7 L125.9,84.4 L125.8,84.1 L125.7,83.8 L125.6,83.5 L125.5,83.2 L125.5,82.9 L125.4,82.6 L125.3,82.3 L125.2,82.0 L125.1,81.7 L125.0,81.4 L125.0,81.1 L124.9,80.9 L124.8,80.6 L124.7,80.4 L124.6,80.1 L124.6,79.9 L124.5,79.6 L124.4,79.4 L124.3,79.2 L124.3,79.0 L124.2,78.7 L124.1,78.5 L124.0,78.3 L124.0,78.1 L123.9,78.0 L123.8,77.8 L123.8,77.6 L123.7,77.4 L123.7,77.3 L123.6,77.1 L123.6,77.0 L123.5,76.8 L123.5,76.7 L123.4,76.6 L123.4,76.5 L123.3,76.4 L123.3,76.3 L123.3,76.2 L123.2,76.1 L123.2,76.1 L123.2,76.0 L123.2,76.0 L122.5,100.0 L121.7,151.0Z" fill="#800080" fill-opacity="0.3" stroke="#800080" stroke-opacity="0.3" stroke-width="1" stroke-linejoin="round"/>
<path d="M121.7,42.5 L122.3,52.0 L123.2,58.5 L123.2,58.6 L123.3,58.7 L123.3,58.9 L123.4,59.1 L123.5,59.3 L123.6,59.6 L123.8,59.9 L123.9,60.2 L124.0,60.6 L124.2,61.0 L124.4,61.4 L124.5,61.8 L124.7,62.3 L124.9,62.8 L125.1,63.3 L125.3,63.8 L125.5,64.3 L125.8,64.9 L126.0,65.5 L126.2,66.1 L126.5,66.7 L126.7,67.3 L127.0,68.0 L127.3,68.6 L127.6,69.3 L128.0,69.9 L128.3,70.6 L128.7,71.3 L129.1,72.0 L129.6,72.6 L130.1,73.3 L130.6,74.0 L131.1,74.7 L131.6,75.5 L132.1,76.2 L132.7,77.0 L133.2,77.7 L133.7,78.5 L134.3,79.3 L134.8,80.1 L135.4,81.0 L136.0,81.8 L136.6,82.6 L137.3,83.4 L138.0,84.2 L138.7,84.9 L139.5,85.7 L140.3,86.4 L141.2,87.1 L142.0,87.8 L143.0,88.5 L143.9,89.1 L144.9,89.7 L145.9,90.3 L147.0,90.9 L148.0,91.4 L149.1,91.9 L150.2,92.4 L151.4,92.9 L152.5,93.4 L153.7,93.9 L154.9,94.3 L156.2,94.8 L157.4,95.2 L158.6,95.5 L159.9,95.9 L161.2,96.3 L162.5,96.6 L163.8,96.9 L165.2,97.2 L166.5,97.5 L167.9,97.8 L169.3,98.1 L170.7,98.3 L172.1,98.5 L173.5,98.7 L175.0,98.9 L176.4,99.0 L177.9,99.2 L179.4,99.4 L180.9,99.5 L182.4,99.7 L183.9,99.8 L185.4,100.0 L186.9,100.1 L188.5,100.2 L190.1,100.4 L191.6,100.5 L193.2,100.6 L194.8,100.7 L196.4,100.9 L198.1,101.0 L199.7,101.1 L201.3,101.2 L203.0,101.3 L204.7,101.4 L206.3,101.5 L208.0,101.6 L209.7,101.7 L211.4,101.8 L213.1,101.9 L214.8,102.0 L216.6,102.1 L218.3,102.2 L220.1,102.3 L221.8,102.4 L223.6,102.4 L225.4,102.5 L227.2,102.6 L229.0,102.7 L230.8,102.8 L232.6,102.9 L234.4,103.0 L236.3,103.1 L238.1,103.2 L240.0,103.2 L241.9,103.3 L243.8,103.4 L245.6,103.5 L247.5,103.6 L249.5,103.7 L251.4,103.7 L253.3,103.8 L255.2,103.9 L257.2,104.0 L259.2,104.0 L261.1,104.1 L263.1,104.2 L265.1,104.2 L267.1,104.3 L269.1,104.4 L271.1,104.4 L273.1,104.5 L275.2,104.5 L277.2,104.6 L279.2,104.7 L281.3,104.7 L283.4,104.8 L285.5,104.8 L287.5,104.9 L289.6,104.9 L291.7,105.0 L293.9,105.0 L296.0,105.0 L298.1,105.1 L300.2,105.1 L302.4,105.2 L304.6,105.2 L306.7,105.3 L308.9,105.3 L311.1,105.4 L313.3,105.4 L315.5,105.4 L317.7,105.5 L319.9,105.5 L322.1,105.6 L324.4,105.6 L326.6,105.7 L328.9,105.7 L331.1,105.7 L333.4,105.8 L335.7,105.8 L338.0,105.8 L340.3,105.9 L342.6,105.9 L344.9,106.0 L347.2,106.0 L349.5,106.0 L351.9,106.1 L354.2,106.1 L356.6,106.1 L358.9,106.2 L361.3,106.2 L363.7,106.2 L366.1,106.2 L368.5,106.3 L370.9,106.3 L373.3,106.3 L375.7,106.4 L378.1,106.4 L380.6,106.4 L383.0,106.4 L385.5,106.5 L387.9,106.5 L390.4,106.5 L392.9,106.5 L395.4,106.6 L397.8,106.6 L400.4,106.6 L402.9,106.6 L405.4,106.6 L407.9,106.7 L410.4,106.7 L413.0,106.7 L415.5,106.7 L418.1,106.7 L420.6,106.8 L423.2,106.8 L425.8,106.8 L428.4,106.8 L431.0,106.9 L433.6,106.9 L436.2,106.9 L438.8,106.9 L441.4,106.9 L444.1,107.0 L446.7,107.0 L449.4,107.0 L452.0,107.0 L454.7,107.0 L457.3,107.1 L460.0,107.1 L462.7,107.1 L465.4,107.1 L468.1,107.1 L470.8,107.1 L473.5,107.2 L476.3,107.2 L479.0,107.2 L481.7,107.2 L484.5,107.2 L487.2,107.3 L490.0,107.3 L492.8,107.3 L495.5,107.3 L498.3,107.3 L501.1,107.3 L503.9,107.3 L506.7,107.4 L509.5,107.4 L512.4,107.4 L515.2,107.4 L518.0,107.4 L520.9,107.4 L523.7,107.4 L526.6,107.4 L529.5,107.4 L532.3,107.5 L535.2,107.5 L538.1,107.5 L541.0,107.5 L543.9,107.5 L546.8,107.5 L549.7,107.5 L552.6,107.5 L555.6,107.5 L558.5,107.5 L561.4,107.5 L564.4,107.5 L564.4,148.7 L561.9,148.7 L559.3,148.7 L556.8,148.7 L554.3,148.6 L551.8,148.6 L549.3,148.6 L546.8,148.6 L544.3,148.6 L541.8,148.5 L539.3,148.5 L536.8,148.5 L534.4,148.5 L531.9,148.5 L529.4,148.4 L527.0,148.4 L524.5,148.4 L522.1,148.4 L519.6,148.3 L517.2,148.3 L514.8,148.3 L512.3,148.2 L509.9,148.2 L507.5,148.2 L505.1,148.1 L502.7,148.1 L500.3,148.1 L497.9,148.0 L495.5,148.0 L493.1,148.0 L490.7,147.9 L488.4,147.9 L486.0,147.9 L483.6,147.8 L481.3,147.8 L478.9,147.7 L476.6,147.7 L474.2,147.7 L471.9,147.6 L469.6,147.6 L467.2,147.5 L464.9,147.5 L462.6,147.5 L460.3,147.4 L458.0,147.4 L455.7,147.3 L453.4,147.3 L451.1,147.2 L448.8,147.2 L446.5,147.2 L444.3,147.1 L442.0,147.1 L439.7,147.0 L437.5,147.0 L435.2,146.9 L433.0,146.9 L430.8,146.8 L428.5,146.8 L426.3,146.7 L424.1,146.7 L421.9,146.7 L419.6,146.6 L417.4,146.6 L415.2,146.5 L413.0,146.5 L410.9,146.4 L408.7,146.4 L406.5,146.3 L404.3,146.3 L402.2,146.2 L400.0,146.2 L397.8,146.2 L395.7,146.1 L393.5,146.1 L391.4,146.0 L389.3,146.0 L387.2,145.9 L385.0,145.9 L382.9,145.8 L380.8,145.7 L378.7,145.7 L376.6,145.6 L374.5,145.6 L372.4,145.5 L370.3,145.5 L368.3,145.4 L366.2,145.3 L364.1,145.3 L362.1,145.2 L360.0,145.2 L358.0,145.1 L356.0,145.0 L353.9,145.0 L351.9,144.9 L349.9,144.8 L347.9,144.8 L345.8,144.7 L343.8,144.6 L341.8,144.6 L339.8,144.5 L337.9,144.4 L335.9,144.4 L333.9,144.3 L331.9,144.2 L330.0,144.2 L328.0,144.1 L326.1,144.0 L324.1,143.9 L322.2,143.9 L320.3,143.8 L318.3,143.7 L316.4,143.7 L314.5,143.6 L312.6,143.5 L310.7,143.4 L308.8,143.4 L306.9,143.3 L305.0,143.2 L303.2,143.1 L301.3,143.1 L299.4,143.0 L297.6,142.9 L295.7,142.8 L293.9,142.8 L292.0,142.7 L290.2,142.6 L288.4,142.5 L286.6,142.5 L284.7,142.4 L282.9,142.3 L281.1,142.2 L279.3,142.2 L277.6,142.1 L275.8,142.0 L274.0,141.9 L272.2,141.8 L270.5,141.8 L268.7,141.7 L267.0,141.6 L265.2,141.5 L263.5,141.4 L261.8,141.3 L260.0,141.2 L258.3,141.1 L256.6,141.1 L254.9,141.0 L253.2,140.9 L251.5,140.8 L249.8,140.7 L248.2,140.6 L246.5,140.5 L244.8,140.4 L243.2,140.3 L241.5,140.2 L239.9,140.1 L238.3,140.0 L236.6,139.8 L235.0,139.7 L233.4,139.6 L231.8,139.5 L230.2,139.4 L228.6,139.3 L227.0,139.1 L225.4,139.0 L223.9,138.9 L222.3,138.8 L220.8,138.6 L219.2,138.5 L217.7,138.4 L216.1,138.2 L214.6,138.1 L213.1,137.9 L211.6,137.8 L210.1,137.6 L208.6,137.5 L207.1,137.3 L205.6,137.2 L204.1,137.0 L202.7,136.8 L201.2,136.6 L199.8,136.5 L198.3,136.3 L196.9,136.1 L195.5,135.9 L194.0,135.7 L192.6,135.5 L191.2,135.3 L189.8,135.1 L188.4,134.9 L187.0,134.7 L185.7,134.4 L184.3,134.2 L182.9,134.0 L181.6,133.7 L180.3,133.5 L178.9,133.2 L177.6,132.9 L176.3,132.6 L175.1,132.4 L173.8,132.1 L172.5,131.8 L171.3,131.4 L170.0,131.1 L168.8,130.7 L167.6,130.2 L166.4,129.8 L165.2,129.3 L164.1,128.8 L162.9,128.4 L161.8,127.9 L160.6,127.5 L159.5,127.0 L158.4,126.5 L157.3,126.0 L156.2,125.5 L155.1,125.0 L154.1,124.4 L153.1,123.9 L152.1,123.3 L151.1,122.7 L150.1,122.1 L149.1,121.5 L148.2,120.8 L147.2,120.2 L146.3,119.5 L145.5,118.8 L144.6,118.1 L143.8,117.4 L143.1,116.7 L142.4,115.9 L141.7,115.1 L141.1,114.3 L140.4,113.5 L139.8,112.6 L139.3,111.8 L138.7,110.9 L138.2,110.1 L137.6,109.2 L137.1,108.4 L136.6,107.6 L136.1,106.8 L135.6,105.9 L135.1,105.1 L134.6,104.3 L134.2,103.5 L133.8,102.7 L133.4,101.9 L133.0,101.1 L132.6,100.3 L132.3,99.5 L131.9,98.7 L131.6,97.9 L131.3,97.2 L131.0,96.4 L130.7,95.6 L130.4,94.9 L130.1,94.1 L129.9,93.4 L129.6,92.6 L129.3,91.9 L129.1,91.2 L128.9,90.5 L128.6,89.8 L128.4,89.1 L128.2,88.5 L127.9,87.8 L127.7,87.2 L127.5,86.5 L127.3,85.9 L127.1,85.3 L126.9,84.7 L126.8,84.1 L126.6,83.5 L126.4,82.9 L126.3,82.4 L126.1,81.8 L125.9,81.3 L125.8,80.8 L125.6,80.3 L125.5,79.8 L125.3,79.4 L125.1,78.9 L125.0,78.5 L124.8,78.1 L124.7,77.7 L124.5,77.3 L124.4,76.9 L124.3,76.6 L124.1,76.2 L124.0,75.9 L123.9,75.6 L123.8,75.3 L123.7,75.1 L123.6,74.8 L123.5,74.6 L123.4,74.4 L123.3,74.3 L123.3,74.1 L123.2,74.0 L123.2,74.0 L122.5,95.0 L121.7,122.5Z" fill="#a52a2a" fill-opacity="0.3" stroke="#a52a2a" stroke-opacity="0.3" stroke-width="1" stroke-linejoin="round"/>
<path d="M121.9,65.0 L122.0,65.0 L122.1,65.1 L122.2,65.2 L122.4,65.4 L122.6,65.5 L122.8,65.7 L123.1,65.9 L123.4,66.1 L123.7,66.3 L124.0,66.5 L124.4,66.8 L124.8,67.0 L125.2,67.3 L125.6,67.6 L126.0,67.9 L126.5,68.2 L126.9,68.5 L127.4,68.9 L127.8,69.3 L128.3,69.7 L128.8,70.2 L129.2,70.6 L129.7,71.1 L130.2,71.7 L130.7,72.2 L131.1,72.8 L131.6,73.3 L132.2,73.9 L132.7,74.5 L133.2,75.1 L133.8,75.7 L134.3,76.4 L134.9,77.0 L135.5,77.7 L136.1,78.3 L136.7,79.0 L137.3,79.6 L138.0,80.2 L138.8,80.8 L139.6,81.3 L140.4,81.9 L141.2,82.4 L142.1,83.0 L142.9,83.5 L143.8,84.0 L144.8,84.5 L145.7,85.0 L146.7,85.4 L147.7,85.8 L148.7,86.2 L149.8,86.5 L150.8,86.8 L151.9,87.1 L153.1,87.4 L154.2,87.6 L155.4,87.9 L156.5,88.1 L157.7,88.4 L158.9,88.6 L160.1,88.8 L161.3,89.0 L162.6,89.2 L163.8,89.4 L165.1,89.6 L166.4,89.8 L167.7,90.0 L169.0,90.2 L170.3,90.3 L171.6,90.5 L172.9,90.6 L174.3,90.7 L175.7,90.8 L177.0,90.9 L178.4,91.0 L179.8,91.1 L181.2,91.2 L182.6,91.3 L184.1,91.4 L185.5,91.5 L187.0,91.6 L188.5,91.7 L189.9,91.8 L191.4,91.9 L192.9,92.0 L194.4,92.0 L196.0,92.1 L197.5,92.2 L199.0,92.3 L200.6,92.4 L202.2,92.4 L203.7,92.5 L205.3,92.6 L206.9,92.7 L208.5,92.7 L210.2,92.8 L211.8,92.9 L213.4,93.0 L215.1,93.0 L216.7,93.1 L218.4,93.2 L220.1,93.3 L221.8,93.4 L223.5,93.4 L225.2,93.5 L226.9,93.6 L228.6,93.7 L230.4,93.7 L232.1,93.8 L233.9,93.9 L235.6,93.9 L237.4,94.0 L239.2,94.1 L241.0,94.1 L242.8,94.2 L244.6,94.2 L246.5,94.3 L248.3,94.4 L250.1,94.4 L252.0,94.5 L253.8,94.5 L255.7,94.5 L257.6,94.6 L259.5,94.6 L261.4,94.7 L263.3,94.7 L265.2,94.8 L267.2,94.8 L269.1,94.8 L271.0,94.9 L273.0,94.9 L275.0,94.9 L276.9,95.0 L278.9,95.0 L280.9,95.0 L282.9,95.1 L284.9,95.1 L286.9,95.1 L289.0,95.2 L291.0,95.2 L293.1,95.2 L295.1,95.2 L297.2,95.3 L299.2,95.3 L301.3,95.3 L303.4,95.4 L305.5,95.4 L307.6,95.4 L309.7,95.4 L311.9,95.5 L314.0,95.5 L316.1,95.5 L318.3,95.5 L320.4,95.6 L322.6,95.6 L324.8,95.6 L327.0,95.6 L329.2,95.7 L331.4,95.7 L333.6,95.7 L335.8,95.7 L338.0,95.8 L340.2,95.8 L342.5,95.8 L344.7,95.8 L347.0,95.9 L349.3,95.9 L351.5,95.9 L353.8,95.9 L356.1,96.0 L358.4,96.0 L360.7,96.0 L363.0,96.0 L365.4,96.0 L367.7,96.1 L370.0,96.1 L372.4,96.1 L374.7,96.1 L377.1,96.1 L379.5,96.2 L381.8,96.2 L384.2,96.2 L386.6,96.2 L389.0,96.2 L391.4,96.2 L393.9,96.3 L396.3,96.3 L398.7,96.3 L401.2,96.3 L403.6,96.3 L406.1,96.3 L408.5,96.4 L411.0,96.4 L413.5,96.4 L416.0,96.4 L418.5,96.4 L421.0,96.4 L423.5,96.4 L426.0,96.5 L428.6,96.5 L431.1,96.5 L433.6,96.5 L436.2,96.5 L438.7,96.5 L441.3,96.5 L443.9,96.6 L446.5,96.6 L449.1,96.6 L451.7,96.6 L454.3,96.6 L456.9,96.6 L459.5,96.7 L462.1,96.7 L464.7,96.7 L467.4,96.7 L470.0,96.7 L472.7,96.7 L475.4,96.7 L478.0,96.7 L480.7,96.8 L483.4,96.8 L486.1,96.8 L488.8,96.8 L491.5,96.8 L494.2,96.8 L496.9,96.8 L499.7,96.8 L502.4,96.9 L505.1,96.9 L507.9,96.9 L510.6,96.9 L513.4,96.9 L516.2,96.9 L519.0,96.9 L521.7,96.9 L524.5,96.9 L527.3,96.9 L530.1,96.9 L533.0,97.0 L535.8,97.0 L538.6,97.0 L541.5,97.0 L544.3,97.0 L547.1,97.0 L550.0,97.0 L552.9,97.0 L555.7,97.0 L558.6,97.0 L561.5,97.0 L564.4,97.0 L564.4,136.0 L561.4,136.0 L558.4,136.0 L555.4,136.0 L552.4,136.0 L549.4,136.0 L546.4,136.0 L543.4,136.0 L540.5,136.0 L537.5,135.9 L534.6,135.9 L531.6,135.9 L528.7,135.9 L525.8,135.9 L522.8,135.9 L519.9,135.9 L517.0,135.8 L514.1,135.8 L511.2,135.8 L508.4,135.8 L505.5,135.8 L502.6,135.7 L499.7,135.7 L496.9,135.7 L494.0,135.7 L491.2,135.7 L488.4,135.6 L485.6,135.6 L482.7,135.6 L479.9,135.5 L477.1,135.5 L474.3,135.5 L471.6,135.5 L468.8,135.4 L466.0,135.4 L463.3,135.4 L460.5,135.3 L457.8,135.3 L455.0,135.3 L452.3,135.3 L449.6,135.2 L446.9,135.2 L444.1,135.2 L441.4,135.1 L438.8,135.1 L436.1,135.1 L433.4,135.0 L430.7,135.0 L428.1,135.0 L425.4,134.9 L422.8,134.9 L420.1,134.9 L417.5,134.8 L414.9,134.8 L412.3,134.8 L409.7,134.7 L407.1,134.7 L404.5,134.7 L401.9,134.6 L399.3,134.6 L396.8,134.6 L394.2,134.5 L391.7,134.5 L389.1,134.4 L386.6,134.4 L384.1,134.4 L381.6,134.3 L379.1,134.3 L376.6,134.2 L374.1,134.2 L371.6,134.1 L369.1,134.1 L366.7,134.0 L364.2,134.0 L361.8,133.9 L359.3,133.9 L356.9,133.8 L354.5,133.8 L352.1,133.7 L349.7,133.7 L347.3,133.6 L344.9,133.6 L342.5,133.5 L340.1,133.4 L337.8,133.4 L335.4,133.3 L333.1,133.3 L330.7,133.2 L328.4,133.1 L326.1,133.1 L323.8,133.0 L321.5,132.9 L319.2,132.9 L316.9,132.8 L314.6,132.7 L312.3,132.6 L310.1,132.6 L307.8,132.5 L305.6,132.4 L303.4,132.4 L301.1,132.3 L298.9,132.2 L296.7,132.1 L294.5,132.0 L292.3,132.0 L290.2,131.9 L288.0,131.8 L285.8,131.7 L283.7,131.7 L281.5,131.6 L279.4,131.5 L277.3,131.4 L275.2,131.3 L273.1,131.2 L271.0,131.1 L268.9,131.0 L266.8,130.9 L264.8,130.7 L262.7,130.6 L260.7,130.5 L258.6,130.4 L256.6,130.3 L254.6,130.1 L252.6,130.0 L250.6,129.9 L248.6,129.7 L246.6,129.6 L244.6,129.4 L242.7,129.3 L240.7,129.2 L238.8,129.0 L236.9,128.9 L235.0,128.7 L233.0,128.6 L231.1,128.4 L229.3,128.3 L227.4,128.1 L225.5,127.9 L223.6,127.8 L221.8,127.6 L220.0,127.4 L218.1,127.2 L216.3,127.0 L214.5,126.8 L212.7,126.6 L210.9,126.4 L209.2,126.2 L207.4,126.0 L205.6,125.8 L203.9,125.6 L202.2,125.3 L200.5,125.1 L198.8,124.8 L197.1,124.5 L195.4,124.3 L193.8,123.9 L192.1,123.6 L190.5,123.3 L188.9,122.9 L187.3,122.6 L185.7,122.2 L184.1,121.8 L182.5,121.4 L181.0,121.0 L179.4,120.6 L177.9,120.2 L176.4,119.8 L174.9,119.4 L173.4,119.0 L171.9,118.6 L170.4,118.2 L169.0,117.8 L167.5,117.4 L166.1,116.9 L164.7,116.5 L163.3,116.0 L161.9,115.6 L160.5,115.1 L159.2,114.6 L157.8,114.1 L156.5,113.6 L155.3,113.1 L154.0,112.5 L152.8,112.0 L151.6,111.3 L150.4,110.7 L149.3,110.0 L148.2,109.3 L147.1,108.5 L146.0,107.8 L145.0,107.0 L144.0,106.2 L143.0,105.5 L142.0,104.7 L141.0,103.8 L140.1,103.0 L139.3,102.1 L138.5,101.3 L137.8,100.4 L137.3,99.4 L136.8,98.5 L136.3,97.5 L135.8,96.5 L135.4,95.4 L135.0,94.4 L134.7,93.4 L134.3,92.3 L133.9,91.3 L133.6,90.3 L133.2,89.3 L132.9,88.4 L132.5,87.5 L132.1,86.6 L131.8,85.7 L131.5,84.8 L131.2,83.9 L130.9,83.1 L130.6,82.2 L130.2,81.4 L130.0,80.6 L129.7,79.8 L129.3,79.0 L129.0,78.3 L128.7,77.6 L128.4,76.9 L128.1,76.2 L127.8,75.5 L127.5,74.9 L127.1,74.3 L126.8,73.8 L126.4,73.2 L126.0,72.7 L125.7,72.2 L125.3,71.7 L124.9,71.3 L124.6,70.8 L124.3,70.4 L124.0,70.0 L123.7,69.6 L123.5,69.2 L123.2,68.9 L123.0,68.6 L122.8,68.3 L122.6,68.0 L122.4,67.7 L122.3,67.5 L122.1,67.3 L122.0,67.2 L121.9,67.1 L121.9,67.0Z" fill="#808080" fill-opacity="0.3" stroke="#808080" stroke-opacity="0.3" stroke-width="1" stroke-linejoin="round"/>
<path d="M121.3,88.6 L121.3,88.6 L121.3,88.7 L121.3,88.8 L121.3,88.9 L121.4,89.0 L121.4,89.2 L121.4,89.3 L121.4,89.5 L121.5,89.7 L121.5,89.9 L121.5,90.1 L121.6,90.4 L121.6,90.6 L121.6,90.9 L121.7,91.1 L121.7,91.4 L121.8,91.7 L121.8,92.0 L121.8,92.3 L121.9,92.6 L121.9,92.9 L122.0,93.3 L122.0,93.6 L122.1,94.0 L122.1,94.3 L122.2,94.7 L122.2,95.1 L122.3,95.4 L122.4,95.8 L122.4,96.2 L122.5,96.7 L122.6,97.1 L122.7,97.5 L122.7,97.9 L122.8,98.4 L122.9,98.8 L123.0,99.3 L123.1,99.7 L123.2,100.2 L123.3,100.7 L123.4,101.2 L123.6,101.6 L123.7,102.1 L123.8,102.6 L124.0,103.1 L124.1,103.6 L124.3,104.2 L124.4,104.7 L124.6,105.2 L124.8,105.7 L124.9,106.3 L125.1,106.8 L125.3,107.3 L125.5,107.9 L125.7,108.4 L125.9,109.0 L126.2,109.6 L126.4,110.1 L126.6,110.7 L126.9,111.3 L127.1,111.8 L127.4,112.4 L127.6,113.0 L127.9,113.6 L128.2,114.2 L128.4,114.8 L128.7,115.4 L129.0,116.0 L129.3,116.6 L129.5,117.3 L129.8,117.9 L130.1,118.5 L130.3,119.2 L130.6,119.8 L130.9,120.5 L131.2,121.1 L131.4,121.8 L131.7,122.5 L132.0,123.2 L132.3,123.8 L132.6,124.5 L132.9,125.2 L133.2,125.9 L133.5,126.6 L133.8,127.3 L134.1,128.0 L134.4,128.8 L134.7,129.5 L135.1,130.2 L135.4,130.9 L135.8,131.6 L136.2,132.3 L136.6,133.0 L137.1,133.7 L137.5,134.4 L138.0,135.0 L138.5,135.7 L139.0,136.4 L139.5,137.0 L140.1,137.6 L140.6,138.3 L141.2,138.9 L141.8,139.6 L142.4,140.2 L143.0,140.8 L143.6,141.5 L144.2,142.1 L144.8,142.7 L145.5,143.3 L146.1,143.9 L146.8,144.5 L147.5,145.1 L148.2,145.7 L148.9,146.3 L149.7,146.8 L150.4,147.4 L151.1,148.0 L151.9,148.5 L152.7,149.0 L153.4,149.6 L154.2,150.1 L155.0,150.6 L155.8,151.2 L156.7,151.7 L157.5,152.2 L158.3,152.7 L159.2,153.2 L160.0,153.6 L160.9,154.1 L161.8,154.5 L162.7,154.9 L163.6,155.4 L164.5,155.8 L165.4,156.2 L166.4,156.6 L167.3,157.0 L168.3,157.4 L169.2,157.8 L170.2,158.1 L171.1,158.5 L172.1,158.9 L173.1,159.3 L174.1,159.6 L175.1,160.0 L176.1,160.4 L177.1,160.7 L178.1,161.1 L179.1,161.4 L180.1,161.7 L181.1,162.0 L182.2,162.4 L183.2,162.7 L184.3,163.0 L185.3,163.3 L186.4,163.5 L187.5,163.8 L188.6,164.1 L189.6,164.4 L190.7,164.6 L191.8,164.9 L192.9,165.1 L194.0,165.4 L195.1,165.6 L196.2,165.8 L197.4,166.1 L198.5,166.3 L199.6,166.5 L200.8,166.7 L201.9,166.9 L203.0,167.2 L204.2,167.4 L205.4,167.6 L206.5,167.8 L207.7,168.0 L208.9,168.2 L210.0,168.4 L211.2,168.6 L212.4,168.8 L213.6,168.9 L214.8,169.1 L216.0,169.3 L217.2,169.5 L218.4,169.7 L219.6,169.9 L220.8,170.1 L222.0,170.3 L223.2,170.5 L224.4,170.6 L225.7,170.8 L226.9,171.0 L228.1,171.2 L229.4,171.4 L230.6,171.6 L231.9,171.7 L233.1,171.9 L234.4,172.1 L235.6,172.3 L236.9,172.4 L238.2,172.6 L239.5,172.8 L240.7,172.9 L242.0,173.1 L243.3,173.2 L244.6,173.4 L245.9,173.6 L247.2,173.7 L248.5,173.8 L249.8,174.0 L251.1,174.1 L252.4,174.2 L253.7,174.4 L255.1,174.5 L256.4,174.6 L257.7,174.8 L259.1,174.9 L260.4,175.0 L261.7,175.1 L263.1,175.3 L264.4,175.4 L265.8,175.5 L267.2,175.6 L268.5,175.7 L269.9,175.9 L271.3,176.0 L272.6,176.1 L274.0,176.2 L275.4,176.3 L276.8,176.4 L278.2,176.5 L279.6,176.6 L281.0,176.7 L282.4,176.8 L283.8,176.9 L285.2,177.0 L286.6,177.0 L288.0,177.1 L289.4,177.2 L290.9,177.3 L292.3,177.4 L293.7,177.4 L295.2,177.5 L296.6,177.6 L298.0,177.7 L299.5,177.8 L300.9,177.8 L302.4,177.9 L303.8,178.0 L305.3,178.1 L306.8,178.1 L308.2,178.2 L309.7,178.3 L311.2,178.3 L312.7,178.4 L314.1,178.5 L315.6,178.5 L317.1,178.6 L318.6,178.7 L320.1,178.7 L321.6,178.8 L323.1,178.9 L324.6,178.9 L326.1,179.0 L327.6,179.1 L329.1,179.1 L330.7,179.2 L332.2,179.2 L333.7,179.3 L335.3,179.4 L336.8,179.4 L338.3,179.5 L339.9,179.5 L341.4,179.6 L343.0,179.6 L344.5,179.7 L346.1,179.8 L347.6,179.8 L349.2,179.9 L350.7,179.9 L352.3,180.0 L353.9,180.0 L355.5,180.1 L357.0,180.1 L358.6,180.2 L360.2,180.2 L361.8,180.3 L363.4,180.3 L365.0,180.4 L366.6,180.4 L368.2,180.5 L369.8,180.5 L371.4,180.6 L373.0,180.6 L374.6,180.7 L376.2,180.7 L377.9,180.8 L379.5,180.8 L381.1,180.9 L382.8,180.9 L384.4,181.0 L386.0,181.0 L387.7,181.1 L389.3,181.1 L391.0,181.2 L392.6,181.2 L394.3,181.2 L395.9,181.3 L397.6,181.3 L399.3,181.4 L400.9,181.4 L402.6,181.5 L404.3,181.5 L406.0,181.6 L407.6,181.6 L409.3,181.6 L411.0,181.7 L412.7,181.7 L414.4,181.8 L416.1,181.8 L417.8,181.8 L419.5,181.9 L421.2,181.9 L422.9,182.0 L424.6,182.0 L426.3,182.1 L428.1,182.1 L429.8,182.1 L431.5,182.2 L433.2,182.2 L435.0,182.3 L436.7,182.3 L438.4,182.3 L440.2,182.4 L441.9,182.4 L443.7,182.5 L445.4,182.5 L447.2,182.5 L448.9,182.6 L450.7,182.6 L452.5,182.7 L454.2,182.7 L456.0,182.7 L457.8,182.8 L459.6,182.8 L461.3,182.8 L463.1,182.9 L464.9,182.9 L466.7,183.0 L468.5,183.0 L470.3,183.0 L472.1,183.1 L473.9,183.1 L475.7,183.1 L477.5,183.2 L479.3,183.2 L481.1,183.2 L482.9,183.3 L484.7,183.3 L486.6,183.3 L488.4,183.4 L490.2,183.4 L492.1,183.4 L493.9,183.5 L495.7,183.5 L497.6,183.5 L499.4,183.6 L501.3,183.6 L503.1,183.6 L505.0,183.7 L506.8,183.7 L508.7,183.7 L510.5,183.7 L512.4,183.8 L514.3,183.8 L516.1,183.8 L518.0,183.9 L519.9,183.9 L521.8,183.9 L523.7,184.0 L525.5,184.0 L527.4,184.0 L529.3,184.0 L531.2,184.1 L533.1,184.1 L535.0,184.1 L536.9,184.2 L538.8,184.2 L540.7,184.2 L542.7,184.2 L544.6,184.3 L546.5,184.3 L548.4,184.3 L550.3,184.3 L552.3,184.4 L554.2,184.4 L556.1,184.4 L558.1,184.4 L560.0,184.5 L562.0,184.5 L563.9,184.5" fill="none" stroke="#ffa500" stroke-width="5.7" stroke-linecap="round" stroke-linejoin="round"/>
<path d="M122.3,66.1 L122.5,66.1 L122.6,66.1 L122.8,66.1 L123.0,66.1 L123.1,66.1 L123.3,66.1 L123.4,66.1 L123.6,66.2 L123.7,66.2 L123.9,66.3 L124.1,66.4 L124.2,66.5 L124.4,66.8 L124.5,67.0 L124.7,67.4 L124.8,67.8 L125.0,68.2 L125.1,68.7 L125.3,69.2 L125.5,69.6 L125.6,70.1 L125.8,70.6 L125.9,71.0 L126.1,71.4 L126.2,71.8 L126.4,72.2 L126.5,72.6 L126.7,73.0 L126.9,73.3 L127.0,73.6 L127.2,73.9 L127.3,74.2 L127.5,74.5 L127.6,74.8 L127.8,75.0 L128.0,75.3 L128.1,75.5 L128.3,75.8 L128.4,76.0 L128.6,76.2 L128.7,76.4 L128.9,76.6 L129.0,76.8 L129.2,77.0 L129.4,77.2 L129.5,77.4 L129.7,77.5 L129.8,77.7 L130.0,77.8 L130.1,78.0 L130.3,78.1 L130.5,78.3 L130.6,78.4 L130.8,78.6 L130.9,78.7 L131.1,78.8 L131.2,78.9 L131.4,79.1 L131.5,79.2 L131.7,79.3 L131.9,79.4 L132.0,79.5 L132.2,79.6 L132.3,79.7 L132.5,79.8 L132.6,79.9 L132.8,80.0 L133.0,80.1 L133.1,80.2 L133.3,80.3 L133.4,80.4 L133.6,80.5 L133.7,80.6 L133.9,80.6 L134.0,80.7 L134.2,80.8 L134.4,80.9 L134.5,80.9 L134.7,81.0 L134.8,81.1 L135.0,81.2 L135.1,81.2 L135.3,81.3 L135.4,81.4 L135.6,81.4 L135.8,81.5 L135.9,81.6 L136.1,81.6 L136.2,81.7 L136.4,81.8 L136.5,81.8 L136.7,81.9 L136.9,81.9 L137.0,82.0 L137.2,82.0 L137.3,82.1 L137.5,82.2 L137.6,82.2 L137.8,82.3 L137.9,82.3 L138.1,82.4 L138.3,82.4 L138.4,82.5 L138.6,82.5 L138.7,82.6 L138.9,82.6 L139.0,82.7 L139.2,82.7 L139.4,82.7 L139.5,82.8 L139.7,82.8 L139.8,82.9 L140.0,82.9 L140.1,83.0 L140.3,83.0 L140.4,83.0 L140.6,83.1 L140.8,83.1 L140.9,83.2 L141.1,83.2 L141.2,83.3 L141.4,83.3 L141.5,83.3 L141.7,83.4 L141.9,83.4 L142.0,83.4 L142.2,83.5 L142.3,83.5 L142.5,83.6 L142.6,83.6 L142.8,83.6 L142.9,83.7 L143.1,83.7 L143.3,83.7 L143.4,83.8 L143.6,83.8 L143.7,83.8 L143.9,83.9 L144.0,83.9 L144.2,83.9 L144.3,84.0 L144.5,84.0 L144.7,84.0 L144.8,84.0 L145.0,84.1 L145.1,84.1 L145.3,84.1 L145.4,84.2 L145.6,84.2 L145.8,84.2 L145.9,84.3 L146.1,84.3 L146.2,84.3 L146.4,84.3 L146.5,84.4 L146.7,84.4 L146.8,84.4 L147.0,84.4 L147.2,84.5 L147.3,84.5 L147.5,84.5 L147.6,84.5 L147.8,84.6 L147.9,84.6 L148.1,84.6 L148.3,84.6 L148.4,84.7 L148.6,84.7 L148.7,84.7 L148.9,84.7 L149.0,84.8 L149.2,84.8 L149.3,84.8 L149.5,84.8 L149.7,84.8 L149.8,84.9 L150.0,84.9 L150.1,84.9 L150.3,84.9 L150.4,84.9 L150.6,85.0 L150.8,85.0 L150.9,85.0 L151.1,85.0 L151.2,85.0 L151.4,85.1 L151.5,85.1 L151.7,85.1 L151.8,85.1 L152.0,85.1 L152.2,85.2 L152.3,85.2 L152.5,85.2 L152.6,85.2 L152.8,85.2 L152.9,85.2 L153.1,85.3 L153.2,85.3 L153.4,85.3 L153.6,85.3 L153.7,85.3 L153.9,85.4 L154.0,85.4 L154.2,85.4 L154.3,85.4 L154.5,85.4 L154.7,85.4 L154.8,85.4 L155.0,85.5 L155.1,85.5 L155.3,85.5 L155.4,85.5 L155.6,85.5 L155.7,85.5 L155.9,85.6 L156.1,85.6 L156.2,85.6 L156.4,85.6 L156.5,85.6 L156.7,85.6 L156.8,85.6 L157.0,85.7 L157.2,85.7 L157.3,85.7 L157.5,85.7 L157.6,85.7 L157.8,85.7 L157.9,85.7 L158.1,85.7 L158.2,85.8 L158.4,85.8 L158.6,85.8 L158.7,85.8 L158.9,85.8 L159.0,85.8 L159.2,85.8 L159.3,85.8 L159.5,85.9 L159.7,85.9 L160.0,85.9 L160.9,86.0 L161.9,86.0 L162.9,86.1 L163.8,86.1 L164.8,86.2 L165.8,86.2 L166.7,86.3 L167.7,86.3 L168.6,86.4 L169.6,86.4 L170.6,86.4 L171.5,86.5 L172.5,86.5 L173.5,86.5 L174.4,86.6 L175.4,86.6 L176.4,86.6 L177.3,86.6 L178.3,86.6 L179.2,86.6 L180.2,86.6 L181.2,86.7 L182.1,86.7 L183.1,86.7 L184.1,86.7 L185.0,86.7 L186.0,86.7 L187.0,86.7 L187.9,86.7 L188.9,86.7 L189.9,86.7 L190.8,86.7 L191.8,86.7 L192.7,86.7 L193.7,86.7 L194.7,86.7 L195.6,86.7 L196.6,86.7 L197.6,86.7 L198.5,86.7 L199.5,86.7 L200.5,86.7 L201.4,86.7 L202.4,86.7 L203.4,86.8 L204.3,86.8 L205.3,86.8 L206.2,86.8 L207.2,86.8 L208.2,86.8 L209.1,86.8 L210.1,86.8 L211.1,86.8 L212.0,86.8 L213.0,86.8 L214.0,86.8 L214.9,86.9 L215.9,86.9 L216.9,86.9 L217.8,86.9 L218.8,86.9 L219.7,86.9 L220.7,86.9 L221.7,86.9 L222.6,86.9 L223.6,86.9 L224.6,86.9 L225.5,86.9 L226.5,87.0 L227.5,87.0 L228.4,87.0 L229.4,87.0 L230.3,87.0 L231.3,87.0 L232.3,87.0 L233.2,87.0 L234.2,87.0 L235.2,87.0 L236.1,87.0 L237.1,87.0 L238.1,87.0 L239.0,87.0 L240.0,87.1 L241.0,87.1 L241.9,87.1 L242.9,87.1 L243.8,87.1 L244.8,87.1 L245.8,87.1 L246.7,87.1 L247.7,87.1 L248.7,87.1 L249.6,87.1 L250.6,87.1 L251.6,87.1 L252.5,87.1 L253.5,87.1 L254.5,87.1 L255.4,87.1 L256.4,87.1 L257.3,87.2 L258.3,87.2 L259.3,87.2 L260.2,87.2 L261.2,87.2 L262.2,87.2 L263.1,87.2 L264.1,87.2 L265.1,87.2 L266.0,87.2 L267.0,87.2 L268.0,87.2 L268.9,87.2 L269.9,87.2 L270.8,87.2 L271.8,87.2 L272.8,87.2 L273.7,87.2 L274.7,87.2 L275.7,87.2 L276.6,87.2 L277.6,87.2 L278.6,87.2 L279.5,87.2 L280.5,87.3 L281.4,87.3 L282.4,87.3 L283.4,87.3 L284.3,87.3 L285.3,87.3 L286.3,87.3 L287.2,87.3 L288.2,87.3 L289.2,87.3 L290.1,87.3 L291.1,87.3 L292.1,87.3 L293.0,87.3 L294.0,87.3 L294.9,87.3 L295.9,87.3 L296.9,87.3 L297.8,87.3 L298.8,87.3 L299.8,87.3 L300.7,87.3 L301.7,87.3 L302.7,87.3 L303.6,87.3 L304.6,87.3 L305.6,87.3 L306.5,87.3 L307.5,87.3 L308.4,87.3 L309.4,87.3 L310.4,87.3 L311.3,87.3 L312.3,87.4 L313.3,87.4 L314.2,87.4 L315.2,87.4 L316.2,87.4 L317.1,87.4 L318.1,87.4 L319.1,87.4 L320.0,87.4 L321.0,87.4 L321.9,87.4 L322.9,87.4 L323.9,87.4 L324.8,87.4 L325.8,87.4 L326.8,87.4 L327.7,87.4 L328.7,87.4 L329.7,87.4 L330.6,87.4 L331.6,87.4 L332.5,87.4 L333.5,87.4 L334.5,87.4 L335.4,87.4 L336.4,87.4 L337.4,87.4 L338.3,87.4 L339.3,87.4 L340.3,87.4 L341.2,87.4 L342.2,87.4 L343.2,87.4 L344.1,87.4 L345.1,87.4 L346.0,87.4 L347.0,87.4 L348.0,87.4 L348.9,87.4 L349.9,87.4 L350.9,87.4 L351.8,87.4 L352.8,87.4 L353.8,87.4 L354.7,87.4 L355.7,87.4 L356.7,87.4 L357.6,87.4 L358.6,87.4 L359.5,87.4 L360.5,87.5 L361.5,87.5 L362.4,87.5 L363.4,87.5 L364.4,87.5 L365.3,87.5 L366.3,87.5 L367.3,87.5 L368.2,87.5 L369.2,87.5 L370.2,87.5 L371.1,87.5 L372.1,87.5 L373.0,87.5 L374.0,87.5 L375.0,87.5 L375.9,87.5 L376.9,87.5 L377.9,87.5 L378.8,87.5 L379.8,87.5 L380.8,87.5 L381.7,87.5 L382.7,87.5 L383.6,87.5 L384.6,87.5 L385.6,87.5 L386.5,87.5 L387.5,87.5 L388.5,87.5 L389.4,87.5 L390.4,87.5 L391.4,87.5 L392.3,87.5 L393.3,87.5 L394.3,87.5 L395.2,87.5 L396.2,87.5 L397.1,87.5 L398.1,87.5 L399.1,87.5 L400.0,87.5 L401.0,87.5 L402.0,87.5 L402.9,87.5 L403.9,87.5 L404.9,87.5 L405.8,87.5 L406.8,87.5 L407.8,87.5 L408.7,87.5 L409.7,87.5 L410.6,87.5 L411.6,87.5 L412.6,87.5 L413.5,87.5 L414.5,87.5 L415.5,87.5 L416.4,87.5 L417.4,87.5 L418.4,87.5 L419.3,87.5 L420.3,87.5 L421.3,87.5 L422.2,87.5 L423.2,87.5 L424.1,87.5 L425.1,87.5 L426.1,87.5 L427.0,87.5 L428.0,87.5 L429.0,87.5 L429.9,87.5 L430.9,87.5 L431.9,87.5 L432.8,87.5 L433.8,87.5 L434.7,87.5 L435.7,87.5 L436.7,87.5 L437.6,87.5 L438.6,87.5 L439.6,87.6 L440.5,87.6 L441.5,87.6 L442.5,87.6 L443.4,87.6 L444.4,87.6 L445.4,87.6 L446.3,87.6 L447.3,87.6 L448.2,87.6 L449.2,87.6 L450.2,87.6 L451.1,87.6 L452.1,87.6 L453.1,87.6 L454.0,87.6 L455.0,87.6 L456.0,87.6 L456.9,87.6 L457.9,87.6 L458.9,87.6 L459.8,87.6 L460.8,87.6 L461.7,87.6 L462.7,87.6 L463.7,87.6 L464.6,87.6 L465.6,87.6 L466.6,87.6 L467.5,87.6 L468.5,87.6 L469.5,87.6 L470.4,87.6 L471.4,87.6 L472.3,87.6 L473.3,87.6 L474.3,87.6 L475.2,87.6 L476.2,87.6 L477.2,87.6 L478.1,87.6 L479.1,87.6 L480.1,87.6 L481.0,87.6 L482.0,87.6 L483.0,87.6 L483.9,87.6 L484.9,87.6 L485.8,87.6 L486.8,87.6 L487.8,87.6 L488.7,87.6 L489.7,87.6 L490.7,87.6 L491.6,87.6 L492.6,87.6 L493.6,87.6 L494.5,87.6 L495.5,87.6 L496.5,87.6 L497.4,87.6 L498.4,87.6 L499.3,87.6 L500.3,87.6 L501.3,87.6 L502.2,87.6 L503.2,87.6 L504.2,87.6 L505.1,87.6 L506.1,87.6 L507.1,87.6 L508.0,87.6 L509.0,87.6 L510.0,87.6 L510.9,87.6 L511.9,87.6 L512.8,87.6 L513.8,87.6 L514.8,87.6 L515.7,87.6 L516.7,87.6 L517.7,87.6 L518.6,87.6 L519.6,87.6 L520.6,87.6 L521.5,87.6 L522.5,87.6 L523.4,87.6 L524.4,87.6 L525.4,87.6 L526.3,87.6 L527.3,87.6 L528.3,87.6 L529.2,87.6 L530.2,87.6 L531.2,87.6 L532.1,87.6 L533.1,87.6 L534.1,87.6 L535.0,87.6 L536.0,87.6 L536.9,87.6 L537.9,87.6 L538.9,87.6 L539.8,87.6 L540.8,87.6 L541.8,87.6 L542.7,87.6 L543.7,87.6 L544.7,87.6 L545.6,87.6 L546.6,87.6 L547.6,87.6 L548.5,87.6 L549.5,87.6 L550.4,87.6 L551.4,87.6 L552.4,87.6 L553.3,87.6 L554.3,87.6 L555.3,87.6 L556.2,87.6 L557.2,87.6 L558.2,87.6 L559.1,87.6 L560.1,87.6 L561.1,87.6 L562.0,87.6 L563.0,87.6 L563.9,87.6" fill="none" stroke="#008000" stroke-width="5.7" stroke-linecap="round" stroke-linejoin="round"/>
<path d="M122.3,65.8 L122.5,65.8 L122.6,65.8 L122.8,65.8 L123.0,65.8 L123.1,65.8 L123.3,65.8 L123.4,65.8 L123.6,65.8 L123.7,65.8 L123.9,65.8 L124.1,65.8 L124.2,65.9 L124.4,65.9 L124.5,65.9 L124.7,66.0 L124.8,66.1 L125.0,66.2 L125.1,66.3 L125.3,66.5 L125.5,66.7 L125.6,67.0 L125.8,67.3 L125.9,67.6 L126.1,68.0 L126.2,68.5 L126.4,68.9 L126.5,69.4 L126.7,69.8 L126.9,70.3 L127.0,70.8 L127.2,71.3 L127.3,71.7 L127.5,72.2 L127.6,72.6 L127.8,73.1 L128.0,73.5 L128.1,73.9 L128.3,74.3 L128.4,74.7 L128.6,75.1 L128.7,75.5 L128.9,75.8 L129.0,76.2 L129.2,76.5 L129.4,76.9 L129.5,77.2 L129.7,77.5 L129.8,77.8 L130.0,78.1 L130.1,78.4 L130.3,78.7 L130.5,79.0 L130.6,79.3 L130.8,79.5 L130.9,79.8 L131.1,80.0 L131.2,80.3 L131.4,80.5 L131.5,80.7 L131.7,81.0 L131.9,81.2 L132.0,81.4 L132.2,81.6 L132.3,81.8 L132.5,82.1 L132.6,82.3 L132.8,82.5 L133.0,82.6 L133.1,82.8 L133.3,83.0 L133.4,83.2 L133.6,83.4 L133.7,83.6 L133.9,83.7 L134.0,83.9 L134.2,84.1 L134.4,84.2 L134.5,84.4 L134.7,84.5 L134.8,84.7 L135.0,84.9 L135.1,85.0 L135.3,85.2 L135.4,85.3 L135.6,85.4 L135.8,85.6 L135.9,85.7 L136.1,85.9 L136.2,86.0 L136.4,86.1 L136.5,86.2 L136.7,86.4 L136.9,86.5 L137.0,86.6 L137.2,86.7 L137.3,86.9 L137.5,87.0 L137.6,87.1 L137.8,87.2 L137.9,87.3 L138.1,87.4 L138.3,87.5 L138.4,87.7 L138.6,87.8 L138.7,87.9 L138.9,88.0 L139.0,88.1 L139.2,88.2 L139.4,88.3 L139.5,88.4 L139.7,88.5 L139.8,88.6 L140.0,88.7 L140.1,88.8 L140.3,88.9 L140.4,88.9 L140.6,89.0 L140.8,89.1 L140.9,89.2 L141.1,89.3 L141.2,89.4 L141.4,89.5 L141.5,89.6 L141.7,89.6 L141.9,89.7 L142.0,89.8 L142.2,89.9 L142.3,90.0 L142.5,90.1 L142.6,90.1 L142.8,90.2 L142.9,90.3 L143.1,90.4 L143.3,90.4 L143.4,90.5 L143.6,90.6 L143.7,90.7 L143.9,90.7 L144.0,90.8 L144.2,90.9 L144.3,90.9 L144.5,91.0 L144.7,91.1 L144.8,91.1 L145.0,91.2 L145.1,91.3 L145.3,91.3 L145.4,91.4 L145.6,91.5 L145.8,91.5 L145.9,91.6 L146.1,91.7 L146.2,91.7 L146.4,91.8 L146.5,91.8 L146.7,91.9 L146.8,92.0 L147.0,92.0 L147.2,92.1 L147.3,92.1 L147.5,92.2 L147.6,92.3 L147.8,92.3 L147.9,92.4 L148.1,92.4 L148.3,92.5 L148.4,92.5 L148.6,92.6 L148.7,92.6 L148.9,92.7 L149.0,92.7 L149.2,92.8 L149.3,92.8 L149.5,92.9 L149.7,92.9 L149.8,93.0 L150.0,93.0 L150.1,93.1 L150.3,93.1 L150.4,93.2 L150.6,93.2 L150.8,93.3 L150.9,93.3 L151.1,93.4 L151.2,93.4 L151.4,93.5 L151.5,93.5 L151.7,93.5 L151.8,93.6 L152.0,93.6 L152.2,93.7 L152.3,93.7 L152.5,93.8 L152.6,93.8 L152.8,93.8 L152.9,93.9 L153.1,93.9 L153.2,94.0 L153.4,94.0 L153.6,94.1 L153.7,94.1 L153.9,94.1 L154.0,94.2 L154.2,94.2 L154.3,94.2 L154.5,94.3 L154.7,94.3 L154.8,94.4 L155.0,94.4 L155.1,94.4 L155.3,94.5 L155.4,94.5 L155.6,94.5 L155.7,94.6 L155.9,94.6 L156.1,94.6 L156.2,94.7 L156.4,94.7 L156.5,94.8 L156.7,94.8 L156.8,94.8 L157.0,94.9 L157.2,94.9 L157.3,94.9 L157.5,94.9 L157.6,95.0 L157.8,95.0 L157.9,95.0 L158.1,95.1 L158.2,95.1 L158.4,95.1 L158.6,95.2 L158.7,95.2 L158.9,95.2 L159.0,95.3 L159.2,95.3 L159.3,95.3 L159.5,95.3 L159.7,95.4 L160.0,95.4 L160.9,95.6 L161.9,95.8 L162.9,95.9 L163.8,96.1 L164.8,96.2 L165.8,96.3 L166.7,96.5 L167.7,96.6 L168.6,96.7 L169.6,96.8 L170.6,96.9 L171.5,97.0 L172.5,97.1 L173.5,97.1 L174.4,97.2 L175.4,97.3 L176.4,97.3 L177.3,97.4 L178.3,97.5 L179.2,97.5 L180.2,97.6 L181.2,97.6 L182.1,97.6 L183.1,97.7 L184.1,97.7 L185.0,97.8 L186.0,97.8 L187.0,97.8 L187.9,97.9 L188.9,97.9 L189.9,97.9 L190.8,97.9 L191.8,98.0 L192.7,98.0 L193.7,98.0 L194.7,98.0 L195.6,98.1 L196.6,98.1 L197.6,98.1 L198.5,98.2 L199.5,98.2 L200.5,98.2 L201.4,98.2 L202.4,98.3 L203.4,98.3 L204.3,98.3 L205.3,98.3 L206.2,98.4 L207.2,98.4 L208.2,98.4 L209.1,98.5 L210.1,98.5 L211.1,98.5 L212.0,98.5 L213.0,98.6 L214.0,98.6 L214.9,98.6 L215.9,98.7 L216.9,98.7 L217.8,98.7 L218.8,98.7 L219.7,98.8 L220.7,98.8 L221.7,98.8 L222.6,98.8 L223.6,98.9 L224.6,98.9 L225.5,98.9 L226.5,98.9 L227.5,99.0 L228.4,99.0 L229.4,99.0 L230.3,99.0 L231.3,99.0 L232.3,99.1 L233.2,99.1 L234.2,99.1 L235.2,99.1 L236.1,99.2 L237.1,99.2 L238.1,99.2 L239.0,99.2 L240.0,99.2 L241.0,99.2 L241.9,99.3 L242.9,99.3 L243.8,99.3 L244.8,99.3 L245.8,99.3 L246.7,99.4 L247.7,99.4 L248.7,99.4 L249.6,99.4 L250.6,99.4 L251.6,99.4 L252.5,99.5 L253.5,99.5 L254.5,99.5 L255.4,99.5 L256.4,99.5 L257.3,99.5 L258.3,99.5 L259.3,99.6 L260.2,99.6 L261.2,99.6 L262.2,99.6 L263.1,99.6 L264.1,99.6 L265.1,99.6 L266.0,99.7 L267.0,99.7 L268.0,99.7 L268.9,99.7 L269.9,99.7 L270.8,99.7 L271.8,99.7 L272.8,99.7 L273.7,99.8 L274.7,99.8 L275.7,99.8 L276.6,99.8 L277.6,99.8 L278.6,99.8 L279.5,99.8 L280.5,99.8 L281.4,99.8 L282.4,99.9 L283.4,99.9 L284.3,99.9 L285.3,99.9 L286.3,99.9 L287.2,99.9 L288.2,99.9 L289.2,99.9 L290.1,99.9 L291.1,99.9 L292.1,100.0 L293.0,100.0 L294.0,100.0 L294.9,100.0 L295.9,100.0 L296.9,100.0 L297.8,100.0 L298.8,100.0 L299.8,100.0 L300.7,100.0 L301.7,100.0 L302.7,100.1 L303.6,100.1 L304.6,100.1 L305.6,100.1 L306.5,100.1 L307.5,100.1 L308.4,100.1 L309.4,100.1 L310.4,100.1 L311.3,100.1 L312.3,100.1 L313.3,100.1 L314.2,100.1 L315.2,100.2 L316.2,100.2 L317.1,100.2 L318.1,100.2 L319.1,100.2 L320.0,100.2 L321.0,100.2 L321.9,100.2 L322.9,100.2 L323.9,100.2 L324.8,100.2 L325.8,100.2 L326.8,100.2 L327.7,100.2 L328.7,100.3 L329.7,100.3 L330.6,100.3 L331.6,100.3 L332.5,100.3 L333.5,100.3 L334.5,100.3 L335.4,100.3 L336.4,100.3 L337.4,100.3 L338.3,100.3 L339.3,100.3 L340.3,100.3 L341.2,100.3 L342.2,100.3 L343.2,100.3 L344.1,100.3 L345.1,100.4 L346.0,100.4 L347.0,100.4 L348.0,100.4 L348.9,100.4 L349.9,100.4 L350.9,100.4 L351.8,100.4 L352.8,100.4 L353.8,100.4 L354.7,100.4 L355.7,100.4 L356.7,100.4 L357.6,100.4 L358.6,100.4 L359.5,100.4 L360.5,100.4 L361.5,100.4 L362.4,100.4 L363.4,100.5 L364.4,100.5 L365.3,100.5 L366.3,100.5 L367.3,100.5 L368.2,100.5 L369.2,100.5 L370.2,100.5 L371.1,100.5 L372.1,100.5 L373.0,100.5 L374.0,100.5 L375.0,100.5 L375.9,100.5 L376.9,100.5 L377.9,100.5 L378.8,100.5 L379.8,100.5 L380.8,100.5 L381.7,100.5 L382.7,100.5 L383.6,100.5 L384.6,100.5 L385.6,100.6 L386.5,100.6 L387.5,100.6 L388.5,100.6 L389.4,100.6 L390.4,100.6 L391.4,100.6 L392.3,100.6 L393.3,100.6 L394.3,100.6 L395.2,100.6 L396.2,100.6 L397.1,100.6 L398.1,100.6 L399.1,100.6 L400.0,100.6 L401.0,100.6 L402.0,100.6 L402.9,100.6 L403.9,100.6 L404.9,100.6 L405.8,100.6 L406.8,100.6 L407.8,100.6 L408.7,100.6 L409.7,100.6 L410.6,100.6 L411.6,100.7 L412.6,100.7 L413.5,100.7 L414.5,100.7 L415.5,100.7 L416.4,100.7 L417.4,100.7 L418.4,100.7 L419.3,100.7 L420.3,100.7 L421.3,100.7 L422.2,100.7 L423.2,100.7 L424.1,100.7 L425.1,100.7 L426.1,100.7 L427.0,100.7 L428.0,100.7 L429.0,100.7 L429.9,100.7 L430.9,100.7 L431.9,100.7 L432.8,100.7 L433.8,100.7 L434.7,100.7 L435.7,100.7 L436.7,100.7 L437.6,100.7 L438.6,100.7 L439.6,100.7 L440.5,100.7 L441.5,100.7 L442.5,100.7 L443.4,100.8 L444.4,100.8 L445.4,100.8 L446.3,100.8 L447.3,100.8 L448.2,100.8 L449.2,100.8 L450.2,100.8 L451.1,100.8 L452.1,100.8 L453.1,100.8 L454.0,100.8 L455.0,100.8 L456.0,100.8 L456.9,100.8 L457.9,100.8 L458.9,100.8 L459.8,100.8 L460.8,100.8 L461.7,100.8 L462.7,100.8 L463.7,100.8 L464.6,100.8 L465.6,100.8 L466.6,100.8 L467.5,100.8 L468.5,100.8 L469.5,100.8 L470.4,100.8 L471.4,100.8 L472.3,100.8 L473.3,100.8 L474.3,100.8 L475.2,100.8 L476.2,100.8 L477.2,100.8 L478.1,100.8 L479.1,100.8 L480.1,100.8 L481.0,100.8 L482.0,100.8 L483.0,100.9 L483.9,100.9 L484.9,100.9 L485.8,100.9 L486.8,100.9 L487.8,100.9 L488.7,100.9 L489.7,100.9 L490.7,100.9 L491.6,100.9 L492.6,100.9 L493.6,100.9 L494.5,100.9 L495.5,100.9 L496.5,100.9 L497.4,100.9 L498.4,100.9 L499.3,100.9 L500.3,100.9 L501.3,100.9 L502.2,100.9 L503.2,100.9 L504.2,100.9 L505.1,100.9 L506.1,100.9 L507.1,100.9 L508.0,100.9 L509.0,100.9 L510.0,100.9 L510.9,100.9 L511.9,100.9 L512.8,100.9 L513.8,100.9 L514.8,100.9 L515.7,100.9 L516.7,100.9 L517.7,100.9 L518.6,100.9 L519.6,100.9 L520.6,100.9 L521.5,100.9 L522.5,100.9 L523.4,100.9 L524.4,100.9 L525.4,100.9 L526.3,100.9 L527.3,100.9 L528.3,100.9 L529.2,100.9 L530.2,100.9 L531.2,100.9 L532.1,100.9 L533.1,101.0 L534.1,101.0 L535.0,101.0 L536.0,101.0 L536.9,101.0 L537.9,101.0 L538.9,101.0 L539.8,101.0 L540.8,101.0 L541.8,101.0 L542.7,101.0 L543.7,101.0 L544.7,101.0 L545.6,101.0 L546.6,101.0 L547.6,101.0 L548.5,101.0 L549.5,101.0 L550.4,101.0 L551.4,101.0 L552.4,101.0 L553.3,101.0 L554.3,101.0 L555.3,101.0 L556.2,101.0 L557.2,101.0 L558.2,101.0 L559.1,101.0 L560.1,101.0 L561.1,101.0 L562.0,101.0 L563.0,101.0 L563.9,101.0" fill="none" stroke="#0000ff" stroke-width="5.7" stroke-linecap="round" stroke-linejoin="round"/>
<path d="M122.3,69.6 L122.5,69.6 L122.6,69.6 L122.8,69.6 L123.0,69.6 L123.1,69.6 L123.3,69.6 L123.4,69.6 L123.6,69.6 L123.7,69.6 L123.9,69.6 L124.1,69.6 L124.2,69.6 L124.4,69.6 L124.5,69.6 L124.7,69.6 L124.8,69.6 L125.0,69.6 L125.1,69.7 L125.3,69.7 L125.5,69.7 L125.6,69.8 L125.8,69.9 L125.9,69.9 L126.1,70.1 L126.2,70.2 L126.4,70.4 L126.5,70.6 L126.7,70.8 L126.9,71.0 L127.0,71.3 L127.2,71.6 L127.3,71.9 L127.5,72.3 L127.6,72.6 L127.8,73.0 L128.0,73.4 L128.1,73.7 L128.3,74.1 L128.4,74.5 L128.6,74.9 L128.7,75.2 L128.9,75.6 L129.0,76.0 L129.2,76.3 L129.4,76.7 L129.5,77.0 L129.7,77.3 L129.8,77.7 L130.0,78.0 L130.1,78.3 L130.3,78.6 L130.5,78.9 L130.6,79.2 L130.8,79.5 L130.9,79.8 L131.1,80.1 L131.2,80.3 L131.4,80.6 L131.5,80.9 L131.7,81.1 L131.9,81.4 L132.0,81.6 L132.2,81.9 L132.3,82.1 L132.5,82.3 L132.6,82.6 L132.8,82.8 L133.0,83.0 L133.1,83.2 L133.3,83.4 L133.4,83.6 L133.6,83.8 L133.7,84.0 L133.9,84.2 L134.0,84.4 L134.2,84.6 L134.4,84.8 L134.5,85.0 L134.7,85.1 L134.8,85.3 L135.0,85.5 L135.1,85.7 L135.3,85.8 L135.4,86.0 L135.6,86.2 L135.8,86.3 L135.9,86.5 L136.1,86.6 L136.2,86.8 L136.4,86.9 L136.5,87.1 L136.7,87.2 L136.9,87.4 L137.0,87.5 L137.2,87.6 L137.3,87.8 L137.5,87.9 L137.6,88.1 L137.8,88.2 L137.9,88.3 L138.1,88.4 L138.3,88.6 L138.4,88.7 L138.6,88.8 L138.7,88.9 L138.9,89.1 L139.0,89.2 L139.2,89.3 L139.4,89.4 L139.5,89.5 L139.7,89.6 L139.8,89.7 L140.0,89.9 L140.1,90.0 L140.3,90.1 L140.4,90.2 L140.6,90.3 L140.8,90.4 L140.9,90.5 L141.1,90.6 L141.2,90.7 L141.4,90.8 L141.5,90.9 L141.7,91.0 L141.9,91.1 L142.0,91.2 L142.2,91.3 L142.3,91.4 L142.5,91.5 L142.6,91.5 L142.8,91.6 L142.9,91.7 L143.1,91.8 L143.3,91.9 L143.4,92.0 L143.6,92.1 L143.7,92.2 L143.9,92.2 L144.0,92.3 L144.2,92.4 L144.3,92.5 L144.5,92.6 L144.7,92.6 L144.8,92.7 L145.0,92.8 L145.1,92.9 L145.3,93.0 L145.4,93.0 L145.6,93.1 L145.8,93.2 L145.9,93.3 L146.1,93.3 L146.2,93.4 L146.4,93.5 L146.5,93.5 L146.7,93.6 L146.8,93.7 L147.0,93.7 L147.2,93.8 L147.3,93.9 L147.5,93.9 L147.6,94.0 L147.8,94.1 L147.9,94.1 L148.1,94.2 L148.3,94.3 L148.4,94.3 L148.6,94.4 L148.7,94.5 L148.9,94.5 L149.0,94.6 L149.2,94.6 L149.3,94.7 L149.5,94.8 L149.7,94.8 L149.8,94.9 L150.0,94.9 L150.1,95.0 L150.3,95.0 L150.4,95.1 L150.6,95.2 L150.8,95.2 L150.9,95.3 L151.1,95.3 L151.2,95.4 L151.4,95.4 L151.5,95.5 L151.7,95.5 L151.8,95.6 L152.0,95.6 L152.2,95.7 L152.3,95.7 L152.5,95.8 L152.6,95.8 L152.8,95.9 L152.9,95.9 L153.1,96.0 L153.2,96.0 L153.4,96.1 L153.6,96.1 L153.7,96.2 L153.9,96.2 L154.0,96.3 L154.2,96.3 L154.3,96.3 L154.5,96.4 L154.7,96.4 L154.8,96.5 L155.0,96.5 L155.1,96.6 L155.3,96.6 L155.4,96.7 L155.6,96.7 L155.7,96.7 L155.9,96.8 L156.1,96.8 L156.2,96.9 L156.4,96.9 L156.5,96.9 L156.7,97.0 L156.8,97.0 L157.0,97.1 L157.2,97.1 L157.3,97.1 L157.5,97.2 L157.6,97.2 L157.8,97.2 L157.9,97.3 L158.1,97.3 L158.2,97.4 L158.4,97.4 L158.6,97.4 L158.7,97.5 L158.9,97.5 L159.0,97.5 L159.2,97.6 L159.3,97.6 L159.5,97.6 L159.7,97.7 L160.0,97.7 L160.9,98.0 L161.9,98.1 L162.9,98.3 L163.8,98.5 L164.8,98.7 L165.8,98.8 L166.7,99.0 L167.7,99.1 L168.6,99.3 L169.6,99.4 L170.6,99.5 L171.5,99.6 L172.5,99.7 L173.5,99.8 L174.4,99.9 L175.4,100.0 L176.4,100.1 L177.3,100.2 L178.3,100.2 L179.2,100.3 L180.2,100.4 L181.2,100.4 L182.1,100.5 L183.1,100.5 L184.1,100.6 L185.0,100.6 L186.0,100.7 L187.0,100.7 L187.9,100.8 L188.9,100.8 L189.9,100.9 L190.8,100.9 L191.8,100.9 L192.7,101.0 L193.7,101.0 L194.7,101.1 L195.6,101.1 L196.6,101.1 L197.6,101.2 L198.5,101.2 L199.5,101.3 L200.5,101.3 L201.4,101.3 L202.4,101.4 L203.4,101.4 L204.3,101.4 L205.3,101.5 L206.2,101.5 L207.2,101.6 L208.2,101.6 L209.1,101.6 L210.1,101.7 L211.1,101.7 L212.0,101.7 L213.0,101.8 L214.0,101.8 L214.9,101.8 L215.9,101.9 L216.9,101.9 L217.8,101.9 L218.8,102.0 L219.7,102.0 L220.7,102.0 L221.7,102.1 L222.6,102.1 L223.6,102.1 L224.6,102.2 L225.5,102.2 L226.5,102.2 L227.5,102.3 L228.4,102.3 L229.4,102.3 L230.3,102.3 L231.3,102.4 L232.3,102.4 L233.2,102.4 L234.2,102.5 L235.2,102.5 L236.1,102.5 L237.1,102.5 L238.1,102.6 L239.0,102.6 L240.0,102.6 L241.0,102.6 L241.9,102.7 L242.9,102.7 L243.8,102.7 L244.8,102.7 L245.8,102.7 L246.7,102.8 L247.7,102.8 L248.7,102.8 L249.6,102.8 L250.6,102.9 L251.6,102.9 L252.5,102.9 L253.5,102.9 L254.5,102.9 L255.4,102.9 L256.4,103.0 L257.3,103.0 L258.3,103.0 L259.3,103.0 L260.2,103.0 L261.2,103.1 L262.2,103.1 L263.1,103.1 L264.1,103.1 L265.1,103.1 L266.0,103.1 L267.0,103.2 L268.0,103.2 L268.9,103.2 L269.9,103.2 L270.8,103.2 L271.8,103.2 L272.8,103.3 L273.7,103.3 L274.7,103.3 L275.7,103.3 L276.6,103.3 L277.6,103.3 L278.6,103.3 L279.5,103.4 L280.5,103.4 L281.4,103.4 L282.4,103.4 L283.4,103.4 L284.3,103.4 L285.3,103.4 L286.3,103.4 L287.2,103.5 L288.2,103.5 L289.2,103.5 L290.1,103.5 L291.1,103.5 L292.1,103.5 L293.0,103.5 L294.0,103.5 L294.9,103.6 L295.9,103.6 L296.9,103.6 L297.8,103.6 L298.8,103.6 L299.8,103.6 L300.7,103.6 L301.7,103.6 L302.7,103.6 L303.6,103.7 L304.6,103.7 L305.6,103.7 L306.5,103.7 L307.5,103.7 L308.4,103.7 L309.4,103.7 L310.4,103.7 L311.3,103.7 L312.3,103.8 L313.3,103.8 L314.2,103.8 L315.2,103.8 L316.2,103.8 L317.1,103.8 L318.1,103.8 L319.1,103.8 L320.0,103.8 L321.0,103.8 L321.9,103.8 L322.9,103.9 L323.9,103.9 L324.8,103.9 L325.8,103.9 L326.8,103.9 L327.7,103.9 L328.7,103.9 L329.7,103.9 L330.6,103.9 L331.6,103.9 L332.5,103.9 L333.5,103.9 L334.5,104.0 L335.4,104.0 L336.4,104.0 L337.4,104.0 L338.3,104.0 L339.3,104.0 L340.3,104.0 L341.2,104.0 L342.2,104.0 L343.2,104.0 L344.1,104.0 L345.1,104.0 L346.0,104.0 L347.0,104.0 L348.0,104.1 L348.9,104.1 L349.9,104.1 L350.9,104.1 L351.8,104.1 L352.8,104.1 L353.8,104.1 L354.7,104.1 L355.7,104.1 L356.7,104.1 L357.6,104.1 L358.6,104.1 L359.5,104.1 L360.5,104.1 L361.5,104.1 L362.4,104.2 L363.4,104.2 L364.4,104.2 L365.3,104.2 L366.3,104.2 L367.3,104.2 L368.2,104.2 L369.2,104.2 L370.2,104.2 L371.1,104.2 L372.1,104.2 L373.0,104.2 L374.0,104.2 L375.0,104.2 L375.9,104.2 L376.9,104.2 L377.9,104.2 L378.8,104.2 L379.8,104.3 L380.8,104.3 L381.7,104.3 L382.7,104.3 L383.6,104.3 L384.6,104.3 L385.6,104.3 L386.5,104.3 L387.5,104.3 L388.5,104.3 L389.4,104.3 L390.4,104.3 L391.4,104.3 L392.3,104.3 L393.3,104.3 L394.3,104.3 L395.2,104.3 L396.2,104.3 L397.1,104.3 L398.1,104.3 L399.1,104.4 L400.0,104.4 L401.0,104.4 L402.0,104.4 L402.9,104.4 L403.9,104.4 L404.9,104.4 L405.8,104.4 L406.8,104.4 L407.8,104.4 L408.7,104.4 L409.7,104.4 L410.6,104.4 L411.6,104.4 L412.6,104.4 L413.5,104.4 L414.5,104.4 L415.5,104.4 L416.4,104.4 L417.4,104.4 L418.4,104.4 L419.3,104.4 L420.3,104.4 L421.3,104.5 L422.2,104.5 L423.2,104.5 L424.1,104.5 L425.1,104.5 L426.1,104.5 L427.0,104.5 L428.0,104.5 L429.0,104.5 L429.9,104.5 L430.9,104.5 L431.9,104.5 L432.8,104.5 L433.8,104.5 L434.7,104.5 L435.7,104.5 L436.7,104.5 L437.6,104.5 L438.6,104.5 L439.6,104.5 L440.5,104.5 L441.5,104.5 L442.5,104.5 L443.4,104.5 L444.4,104.5 L445.4,104.5 L446.3,104.6 L447.3,104.6 L448.2,104.6 L449.2,104.6 L450.2,104.6 L451.1,104.6 L452.1,104.6 L453.1,104.6 L454.0,104.6 L455.0,104.6 L456.0,104.6 L456.9,104.6 L457.9,104.6 L458.9,104.6 L459.8,104.6 L460.8,104.6 L461.7,104.6 L462.7,104.6 L463.7,104.6 L464.6,104.6 L465.6,104.6 L466.6,104.6 L467.5,104.6 L468.5,104.6 L469.5,104.6 L470.4,104.6 L471.4,104.6 L472.3,104.6 L473.3,104.6 L474.3,104.6 L475.2,104.6 L476.2,104.6 L477.2,104.7 L478.1,104.7 L479.1,104.7 L480.1,104.7 L481.0,104.7 L482.0,104.7 L483.0,104.7 L483.9,104.7 L484.9,104.7 L485.8,104.7 L486.8,104.7 L487.8,104.7 L488.7,104.7 L489.7,104.7 L490.7,104.7 L491.6,104.7 L492.6,104.7 L493.6,104.7 L494.5,104.7 L495.5,104.7 L496.5,104.7 L497.4,104.7 L498.4,104.7 L499.3,104.7 L500.3,104.7 L501.3,104.7 L502.2,104.7 L503.2,104.7 L504.2,104.7 L505.1,104.7 L506.1,104.7 L507.1,104.7 L508.0,104.7 L509.0,104.7 L510.0,104.7 L510.9,104.7 L511.9,104.7 L512.8,104.7 L513.8,104.7 L514.8,104.8 L515.7,104.8 L516.7,104.8 L517.7,104.8 L518.6,104.8 L519.6,104.8 L520.6,104.8 L521.5,104.8 L522.5,104.8 L523.4,104.8 L524.4,104.8 L525.4,104.8 L526.3,104.8 L527.3,104.8 L528.3,104.8 L529.2,104.8 L530.2,104.8 L531.2,104.8 L532.1,104.8 L533.1,104.8 L534.1,104.8 L535.0,104.8 L536.0,104.8 L536.9,104.8 L537.9,104.8 L538.9,104.8 L539.8,104.8 L540.8,104.8 L541.8,104.8 L542.7,104.8 L543.7,104.8 L544.7,104.8 L545.6,104.8 L546.6,104.8 L547.6,104.8 L548.5,104.8 L549.5,104.8 L550.4,104.8 L551.4,104.8 L552.4,104.8 L553.3,104.8 L554.3,104.8 L555.3,104.8 L556.2,104.8 L557.2,104.8 L558.2,104.8 L559.1,104.8 L560.1,104.9 L561.1,104.9 L562.0,104.9 L563.0,104.9 L563.9,104.9" fill="none" stroke="#800080" stroke-width="5.7" stroke-linecap="round" stroke-linejoin="round"/>
<path d="M121.8,60.0 L121.8,60.0 L121.8,60.1 L121.9,60.2 L121.9,60.4 L121.9,60.5 L122.0,60.7 L122.0,60.9 L122.0,61.1 L122.1,61.3 L122.2,61.6 L122.2,61.8 L122.3,62.1 L122.4,62.4 L122.4,62.7 L122.5,63.0 L122.6,63.3 L122.7,63.6 L122.7,64.0 L122.8,64.4 L122.9,64.7 L123.0,65.1 L123.1,65.5 L123.2,65.9 L123.3,66.3 L123.4,66.7 L123.5,67.2 L123.7,67.6 L123.8,68.1 L123.9,68.5 L124.0,69.0 L124.1,69.5 L124.3,70.0 L124.4,70.5 L124.6,71.0 L124.7,71.5 L124.9,72.0 L125.0,72.6 L125.2,73.1 L125.4,73.7 L125.6,74.2 L125.8,74.8 L126.0,75.3 L126.2,75.9 L126.4,76.5 L126.6,77.1 L126.9,77.7 L127.1,78.3 L127.3,78.9 L127.6,79.5 L127.8,80.1 L128.1,80.8 L128.3,81.4 L128.6,82.0 L128.9,82.7 L129.1,83.3 L129.4,84.0 L129.7,84.7 L130.0,85.3 L130.3,86.0 L130.6,86.7 L131.0,87.4 L131.4,88.0 L131.8,88.6 L132.2,89.2 L132.8,89.8 L133.3,90.4 L133.9,91.0 L134.5,91.5 L135.1,92.1 L135.7,92.6 L136.3,93.1 L137.0,93.7 L137.7,94.2 L138.3,94.7 L139.0,95.2 L139.7,95.7 L140.4,96.3 L140.8,96.6 L140.9,96.8 L141.1,96.9 L141.2,97.0 L141.4,97.2 L141.5,97.3 L141.7,97.4 L141.9,97.6 L142.0,97.7 L142.2,97.8 L142.3,98.0 L142.5,98.1 L142.6,98.2 L142.8,98.4 L142.9,98.5 L143.1,98.6 L143.3,98.7 L143.4,98.9 L143.6,99.0 L143.7,99.1 L143.9,99.2 L144.0,99.3 L144.2,99.5 L144.3,99.6 L144.5,99.7 L144.7,99.8 L144.8,99.9 L145.0,100.0 L145.1,100.1 L145.3,100.2 L145.4,100.3 L145.6,100.5 L145.8,100.6 L145.9,100.7 L146.1,100.8 L146.2,100.9 L146.4,101.0 L146.5,101.1 L146.7,101.2 L146.8,101.3 L147.0,101.4 L147.2,101.5 L147.3,101.6 L147.5,101.7 L147.6,101.8 L147.8,101.9 L147.9,102.0 L148.1,102.0 L148.3,102.1 L148.4,102.2 L148.6,102.3 L148.7,102.4 L148.9,102.5 L149.0,102.6 L149.2,102.7 L149.3,102.8 L149.5,102.8 L149.7,102.9 L149.8,103.0 L150.0,103.1 L150.1,103.2 L150.3,103.3 L150.4,103.3 L150.6,103.4 L150.8,103.5 L150.9,103.6 L151.1,103.7 L151.2,103.8 L151.4,103.8 L151.5,103.9 L151.7,104.0 L151.8,104.1 L152.0,104.1 L152.2,104.2 L152.3,104.3 L152.5,104.4 L152.6,104.4 L152.8,104.5 L152.9,104.6 L153.1,104.7 L153.2,104.7 L153.4,104.8 L153.6,104.9 L153.7,104.9 L153.9,105.0 L154.0,105.1 L154.2,105.1 L154.3,105.2 L154.5,105.3 L154.7,105.3 L154.8,105.4 L155.0,105.5 L155.1,105.5 L155.3,105.6 L155.4,105.7 L155.6,105.7 L155.7,105.8 L155.9,105.9 L156.1,105.9 L156.2,106.0 L156.4,106.0 L156.5,106.1 L156.7,106.2 L156.8,106.2 L157.0,106.3 L157.2,106.3 L157.3,106.4 L157.5,106.5 L157.6,106.5 L157.8,106.6 L157.9,106.6 L158.1,106.7 L158.2,106.8 L158.4,106.8 L158.6,106.9 L158.7,106.9 L158.9,107.0 L159.0,107.0 L159.2,107.1 L159.3,107.1 L159.5,107.2 L159.7,107.2 L160.0,107.3 L160.9,107.7 L161.9,108.0 L162.9,108.3 L163.8,108.5 L164.8,108.8 L165.8,109.1 L166.7,109.3 L167.7,109.5 L168.6,109.7 L169.6,110.0 L170.6,110.2 L171.5,110.4 L172.5,110.5 L173.5,110.7 L174.4,110.9 L175.4,111.0 L176.4,111.2 L177.3,111.3 L178.3,111.5 L179.2,111.6 L180.2,111.8 L181.2,111.9 L182.1,112.0 L183.1,112.1 L184.1,112.2 L185.0,112.3 L186.0,112.4 L187.0,112.5 L187.9,112.6 L188.9,112.7 L189.9,112.8 L190.8,112.9 L191.8,113.0 L192.7,113.1 L193.7,113.2 L194.7,113.3 L195.6,113.3 L196.6,113.4 L197.6,113.5 L198.5,113.6 L199.5,113.7 L200.5,113.8 L201.4,113.8 L202.4,113.9 L203.4,114.0 L204.3,114.1 L205.3,114.1 L206.2,114.2 L207.2,114.3 L208.2,114.3 L209.1,114.4 L210.1,114.5 L211.1,114.6 L212.0,114.6 L213.0,114.7 L214.0,114.8 L214.9,114.8 L215.9,114.9 L216.9,115.0 L217.8,115.0 L218.8,115.1 L219.7,115.1 L220.7,115.2 L221.7,115.3 L222.6,115.3 L223.6,115.4 L224.6,115.4 L225.5,115.5 L226.5,115.6 L227.5,115.6 L228.4,115.7 L229.4,115.7 L230.3,115.8 L231.3,115.8 L232.3,115.9 L233.2,115.9 L234.2,116.0 L235.2,116.0 L236.1,116.1 L237.1,116.1 L238.1,116.2 L239.0,116.2 L240.0,116.3 L241.0,116.3 L241.9,116.3 L242.9,116.4 L243.8,116.4 L244.8,116.5 L245.8,116.5 L246.7,116.6 L247.7,116.6 L248.7,116.6 L249.6,116.7 L250.6,116.7 L251.6,116.8 L252.5,116.8 L253.5,116.8 L254.5,116.9 L255.4,116.9 L256.4,116.9 L257.3,117.0 L258.3,117.0 L259.3,117.0 L260.2,117.1 L261.2,117.1 L262.2,117.1 L263.1,117.2 L264.1,117.2 L265.1,117.2 L266.0,117.3 L267.0,117.3 L268.0,117.3 L268.9,117.4 L269.9,117.4 L270.8,117.4 L271.8,117.4 L272.8,117.5 L273.7,117.5 L274.7,117.5 L275.7,117.6 L276.6,117.6 L277.6,117.6 L278.6,117.6 L279.5,117.7 L280.5,117.7 L281.4,117.7 L282.4,117.7 L283.4,117.8 L284.3,117.8 L285.3,117.8 L286.3,117.8 L287.2,117.9 L288.2,117.9 L289.2,117.9 L290.1,117.9 L291.1,118.0 L292.1,118.0 L293.0,118.0 L294.0,118.0 L294.9,118.1 L295.9,118.1 L296.9,118.1 L297.8,118.1 L298.8,118.1 L299.8,118.2 L300.7,118.2 L301.7,118.2 L302.7,118.2 L303.6,118.3 L304.6,118.3 L305.6,118.3 L306.5,118.3 L307.5,118.3 L308.4,118.4 L309.4,118.4 L310.4,118.4 L311.3,118.4 L312.3,118.4 L313.3,118.4 L314.2,118.5 L315.2,118.5 L316.2,118.5 L317.1,118.5 L318.1,118.5 L319.1,118.6 L320.0,118.6 L321.0,118.6 L321.9,118.6 L322.9,118.6 L323.9,118.6 L324.8,118.7 L325.8,118.7 L326.8,118.7 L327.7,118.7 L328.7,118.7 L329.7,118.7 L330.6,118.8 L331.6,118.8 L332.5,118.8 L333.5,118.8 L334.5,118.8 L335.4,118.8 L336.4,118.8 L337.4,118.9 L338.3,118.9 L339.3,118.9 L340.3,118.9 L341.2,118.9 L342.2,118.9 L343.2,118.9 L344.1,119.0 L345.1,119.0 L346.0,119.0 L347.0,119.0 L348.0,119.0 L348.9,119.0 L349.9,119.0 L350.9,119.1 L351.8,119.1 L352.8,119.1 L353.8,119.1 L354.7,119.1 L355.7,119.1 L356.7,119.1 L357.6,119.1 L358.6,119.2 L359.5,119.2 L360.5,119.2 L361.5,119.2 L362.4,119.2 L363.4,119.2 L364.4,119.2 L365.3,119.2 L366.3,119.3 L367.3,119.3 L368.2,119.3 L369.2,119.3 L370.2,119.3 L371.1,119.3 L372.1,119.3 L373.0,119.3 L374.0,119.3 L375.0,119.4 L375.9,119.4 L376.9,119.4 L377.9,119.4 L378.8,119.4 L379.8,119.4 L380.8,119.4 L381.7,119.4 L382.7,119.4 L383.6,119.5 L384.6,119.5 L385.6,119.5 L386.5,119.5 L387.5,119.5 L388.5,119.5 L389.4,119.5 L390.4,119.5 L391.4,119.5 L392.3,119.5 L393.3,119.6 L394.3,119.6 L395.2,119.6 L396.2,119.6 L397.1,119.6 L398.1,119.6 L399.1,119.6 L400.0,119.6 L401.0,119.6 L402.0,119.6 L402.9,119.6 L403.9,119.7 L404.9,119.7 L405.8,119.7 L406.8,119.7 L407.8,119.7 L408.7,119.7 L409.7,119.7 L410.6,119.7 L411.6,119.7 L412.6,119.7 L413.5,119.7 L414.5,119.8 L415.5,119.8 L416.4,119.8 L417.4,119.8 L418.4,119.8 L419.3,119.8 L420.3,119.8 L421.3,119.8 L422.2,119.8 L423.2,119.8 L424.1,119.8 L425.1,119.8 L426.1,119.8 L427.0,119.9 L428.0,119.9 L429.0,119.9 L429.9,119.9 L430.9,119.9 L431.9,119.9 L432.8,119.9 L433.8,119.9 L434.7,119.9 L435.7,119.9 L436.7,119.9 L437.6,119.9 L438.6,119.9 L439.6,120.0 L440.5,120.0 L441.5,120.0 L442.5,120.0 L443.4,120.0 L444.4,120.0 L445.4,120.0 L446.3,120.0 L447.3,120.0 L448.2,120.0 L449.2,120.0 L450.2,120.0 L451.1,120.0 L452.1,120.0 L453.1,120.0 L454.0,120.1 L455.0,120.1 L456.0,120.1 L456.9,120.1 L457.9,120.1 L458.9,120.1 L459.8,120.1 L460.8,120.1 L461.7,120.1 L462.7,120.1 L463.7,120.1 L464.6,120.1 L465.6,120.1 L466.6,120.1 L467.5,120.1 L468.5,120.1 L469.5,120.2 L470.4,120.2 L471.4,120.2 L472.3,120.2 L473.3,120.2 L474.3,120.2 L475.2,120.2 L476.2,120.2 L477.2,120.2 L478.1,120.2 L479.1,120.2 L480.1,120.2 L481.0,120.2 L482.0,120.2 L483.0,120.2 L483.9,120.2 L484.9,120.2 L485.8,120.3 L486.8,120.3 L487.8,120.3 L488.7,120.3 L489.7,120.3 L490.7,120.3 L491.6,120.3 L492.6,120.3 L493.6,120.3 L494.5,120.3 L495.5,120.3 L496.5,120.3 L497.4,120.3 L498.4,120.3 L499.3,120.3 L500.3,120.3 L501.3,120.3 L502.2,120.3 L503.2,120.3 L504.2,120.3 L505.1,120.4 L506.1,120.4 L507.1,120.4 L508.0,120.4 L509.0,120.4 L510.0,120.4 L510.9,120.4 L511.9,120.4 L512.8,120.4 L513.8,120.4 L514.8,120.4 L515.7,120.4 L516.7,120.4 L517.7,120.4 L518.6,120.4 L519.6,120.4 L520.6,120.4 L521.5,120.4 L522.5,120.4 L523.4,120.4 L524.4,120.4 L525.4,120.5 L526.3,120.5 L527.3,120.5 L528.3,120.5 L529.2,120.5 L530.2,120.5 L531.2,120.5 L532.1,120.5 L533.1,120.5 L534.1,120.5 L535.0,120.5 L536.0,120.5 L536.9,120.5 L537.9,120.5 L538.9,120.5 L539.8,120.5 L540.8,120.5 L541.8,120.5 L542.7,120.5 L543.7,120.5 L544.7,120.5 L545.6,120.5 L546.6,120.5 L547.6,120.6 L548.5,120.6 L549.5,120.6 L550.4,120.6 L551.4,120.6 L552.4,120.6 L553.3,120.6 L554.3,120.6 L555.3,120.6 L556.2,120.6 L557.2,120.6 L558.2,120.6 L559.1,120.6 L560.1,120.6 L561.1,120.6 L562.0,120.6 L563.0,120.6 L563.9,120.6" fill="none" stroke="#a52a2a" stroke-width="5.7" stroke-linecap="round" stroke-linejoin="round"/>
<path d="M122.3,66.2 L122.5,66.2 L122.6,66.2 L122.8,66.2 L123.0,66.2 L123.1,66.2 L123.3,66.2 L123.4,66.2 L123.6,66.2 L123.7,66.2 L123.9,66.2 L124.1,66.2 L124.2,66.2 L124.4,66.2 L124.5,66.2 L124.7,66.2 L124.8,66.2 L125.0,66.2 L125.1,66.3 L125.3,66.3 L125.5,66.3 L125.6,66.4 L125.8,66.5 L125.9,66.6 L126.1,66.7 L126.2,66.9 L126.4,67.0 L126.5,67.3 L126.7,67.5 L126.9,67.8 L127.0,68.1 L127.2,68.4 L127.3,68.8 L127.5,69.2 L127.6,69.5 L127.8,70.0 L128.0,70.4 L128.1,70.8 L128.3,71.2 L128.4,71.6 L128.6,72.0 L128.7,72.5 L128.9,72.9 L129.0,73.3 L129.2,73.7 L129.4,74.1 L129.5,74.5 L129.7,74.9 L129.8,75.2 L130.0,75.6 L130.1,76.0 L130.3,76.3 L130.5,76.7 L130.6,77.0 L130.8,77.3 L130.9,77.7 L131.1,78.0 L131.2,78.3 L131.4,78.6 L131.5,78.9 L131.7,79.2 L131.9,79.5 L132.0,79.8 L132.2,80.1 L132.3,80.3 L132.5,80.6 L132.6,80.9 L132.8,81.1 L133.0,81.4 L133.1,81.6 L133.3,81.9 L133.4,82.1 L133.6,82.3 L133.7,82.6 L133.9,82.8 L134.0,83.0 L134.2,83.3 L134.4,83.5 L134.5,83.7 L134.7,83.9 L134.8,84.1 L135.0,84.3 L135.1,84.5 L135.3,84.7 L135.4,84.9 L135.6,85.1 L135.8,85.3 L135.9,85.5 L136.1,85.7 L136.2,85.9 L136.4,86.0 L136.5,86.2 L136.7,86.4 L136.9,86.6 L137.0,86.7 L137.2,86.9 L137.3,87.1 L137.5,87.2 L137.6,87.4 L137.8,87.5 L137.9,87.7 L138.1,87.9 L138.3,88.0 L138.4,88.2 L138.6,88.3 L138.7,88.5 L138.9,88.6 L139.0,88.7 L139.2,88.9 L139.4,89.0 L139.5,89.2 L139.7,89.3 L139.8,89.4 L140.0,89.6 L140.1,89.7 L140.3,89.8 L140.4,90.0 L140.6,90.1 L140.8,90.2 L140.9,90.3 L141.1,90.5 L141.2,90.6 L141.4,90.7 L141.5,90.8 L141.7,91.0 L141.9,91.1 L142.0,91.2 L142.2,91.3 L142.3,91.4 L142.5,91.5 L142.6,91.6 L142.8,91.7 L142.9,91.9 L143.1,92.0 L143.3,92.1 L143.4,92.2 L143.6,92.3 L143.7,92.4 L143.9,92.5 L144.0,92.6 L144.2,92.7 L144.3,92.8 L144.5,92.9 L144.7,93.0 L144.8,93.1 L145.0,93.2 L145.1,93.3 L145.3,93.4 L145.4,93.5 L145.6,93.6 L145.8,93.7 L145.9,93.7 L146.1,93.8 L146.2,93.9 L146.4,94.0 L146.5,94.1 L146.7,94.2 L146.8,94.3 L147.0,94.4 L147.2,94.4 L147.3,94.5 L147.5,94.6 L147.6,94.7 L147.8,94.8 L147.9,94.9 L148.1,94.9 L148.3,95.0 L148.4,95.1 L148.6,95.2 L148.7,95.2 L148.9,95.3 L149.0,95.4 L149.2,95.5 L149.3,95.5 L149.5,95.6 L149.7,95.7 L149.8,95.8 L150.0,95.8 L150.1,95.9 L150.3,96.0 L150.4,96.0 L150.6,96.1 L150.8,96.2 L150.9,96.3 L151.1,96.3 L151.2,96.4 L151.4,96.5 L151.5,96.5 L151.7,96.6 L151.8,96.7 L152.0,96.7 L152.2,96.8 L152.3,96.8 L152.5,96.9 L152.6,97.0 L152.8,97.0 L152.9,97.1 L153.1,97.2 L153.2,97.2 L153.4,97.3 L153.6,97.3 L153.7,97.4 L153.9,97.4 L154.0,97.5 L154.2,97.6 L154.3,97.6 L154.5,97.7 L154.7,97.7 L154.8,97.8 L155.0,97.8 L155.1,97.9 L155.3,98.0 L155.4,98.0 L155.6,98.1 L155.7,98.1 L155.9,98.2 L156.1,98.2 L156.2,98.3 L156.4,98.3 L156.5,98.4 L156.7,98.4 L156.8,98.5 L157.0,98.5 L157.2,98.6 L157.3,98.6 L157.5,98.7 L157.6,98.7 L157.8,98.8 L157.9,98.8 L158.1,98.9 L158.2,98.9 L158.4,99.0 L158.6,99.0 L158.7,99.1 L158.9,99.1 L159.0,99.2 L159.2,99.2 L159.3,99.2 L159.5,99.3 L159.7,99.3 L160.0,99.4 L160.9,99.7 L161.9,99.9 L162.9,100.2 L163.8,100.4 L164.8,100.6 L165.8,100.8 L166.7,101.0 L167.7,101.2 L168.6,101.4 L169.6,101.6 L170.6,101.7 L171.5,101.9 L172.5,102.0 L173.5,102.2 L174.4,102.3 L175.4,102.4 L176.4,102.5 L177.3,102.7 L178.3,102.8 L179.2,102.9 L180.2,103.0 L181.2,103.1 L182.1,103.2 L183.1,103.2 L184.1,103.3 L185.0,103.4 L186.0,103.5 L187.0,103.6 L187.9,103.6 L188.9,103.7 L189.9,103.8 L190.8,103.8 L191.8,103.9 L192.7,104.0 L193.7,104.0 L194.7,104.1 L195.6,104.1 L196.6,104.2 L197.6,104.3 L198.5,104.3 L199.5,104.4 L200.5,104.4 L201.4,104.5 L202.4,104.6 L203.4,104.6 L204.3,104.7 L205.3,104.7 L206.2,104.8 L207.2,104.8 L208.2,104.9 L209.1,104.9 L210.1,105.0 L211.1,105.1 L212.0,105.1 L213.0,105.2 L214.0,105.2 L214.9,105.3 L215.9,105.3 L216.9,105.4 L217.8,105.4 L218.8,105.5 L219.7,105.5 L220.7,105.5 L221.7,105.6 L222.6,105.6 L223.6,105.7 L224.6,105.7 L225.5,105.8 L226.5,105.8 L227.5,105.9 L228.4,105.9 L229.4,105.9 L230.3,106.0 L231.3,106.0 L232.3,106.1 L233.2,106.1 L234.2,106.1 L235.2,106.2 L236.1,106.2 L237.1,106.2 L238.1,106.3 L239.0,106.3 L240.0,106.3 L241.0,106.4 L241.9,106.4 L242.9,106.4 L243.8,106.5 L244.8,106.5 L245.8,106.5 L246.7,106.6 L247.7,106.6 L248.7,106.6 L249.6,106.7 L250.6,106.7 L251.6,106.7 L252.5,106.8 L253.5,106.8 L254.5,106.8 L255.4,106.8 L256.4,106.9 L257.3,106.9 L258.3,106.9 L259.3,106.9 L260.2,107.0 L261.2,107.0 L262.2,107.0 L263.1,107.0 L264.1,107.1 L265.1,107.1 L266.0,107.1 L267.0,107.1 L268.0,107.2 L268.9,107.2 L269.9,107.2 L270.8,107.2 L271.8,107.3 L272.8,107.3 L273.7,107.3 L274.7,107.3 L275.7,107.3 L276.6,107.4 L277.6,107.4 L278.6,107.4 L279.5,107.4 L280.5,107.4 L281.4,107.5 L282.4,107.5 L283.4,107.5 L284.3,107.5 L285.3,107.5 L286.3,107.6 L287.2,107.6 L288.2,107.6 L289.2,107.6 L290.1,107.6 L291.1,107.6 L292.1,107.7 L293.0,107.7 L294.0,107.7 L294.9,107.7 L295.9,107.7 L296.9,107.8 L297.8,107.8 L298.8,107.8 L299.8,107.8 L300.7,107.8 L301.7,107.8 L302.7,107.8 L303.6,107.9 L304.6,107.9 L305.6,107.9 L306.5,107.9 L307.5,107.9 L308.4,107.9 L309.4,108.0 L310.4,108.0 L311.3,108.0 L312.3,108.0 L313.3,108.0 L314.2,108.0 L315.2,108.0 L316.2,108.1 L317.1,108.1 L318.1,108.1 L319.1,108.1 L320.0,108.1 L321.0,108.1 L321.9,108.1 L322.9,108.1 L323.9,108.2 L324.8,108.2 L325.8,108.2 L326.8,108.2 L327.7,108.2 L328.7,108.2 L329.7,108.2 L330.6,108.2 L331.6,108.3 L332.5,108.3 L333.5,108.3 L334.5,108.3 L335.4,108.3 L336.4,108.3 L337.4,108.3 L338.3,108.3 L339.3,108.3 L340.3,108.4 L341.2,108.4 L342.2,108.4 L343.2,108.4 L344.1,108.4 L345.1,108.4 L346.0,108.4 L347.0,108.4 L348.0,108.4 L348.9,108.4 L349.9,108.5 L350.9,108.5 L351.8,108.5 L352.8,108.5 L353.8,108.5 L354.7,108.5 L355.7,108.5 L356.7,108.5 L357.6,108.5 L358.6,108.5 L359.5,108.6 L360.5,108.6 L361.5,108.6 L362.4,108.6 L363.4,108.6 L364.4,108.6 L365.3,108.6 L366.3,108.6 L367.3,108.6 L368.2,108.6 L369.2,108.6 L370.2,108.6 L371.1,108.7 L372.1,108.7 L373.0,108.7 L374.0,108.7 L375.0,108.7 L375.9,108.7 L376.9,108.7 L377.9,108.7 L378.8,108.7 L379.8,108.7 L380.8,108.7 L381.7,108.7 L382.7,108.8 L383.6,108.8 L384.6,108.8 L385.6,108.8 L386.5,108.8 L387.5,108.8 L388.5,108.8 L389.4,108.8 L390.4,108.8 L391.4,108.8 L392.3,108.8 L393.3,108.8 L394.3,108.8 L395.2,108.8 L396.2,108.9 L397.1,108.9 L398.1,108.9 L399.1,108.9 L400.0,108.9 L401.0,108.9 L402.0,108.9 L402.9,108.9 L403.9,108.9 L404.9,108.9 L405.8,108.9 L406.8,108.9 L407.8,108.9 L408.7,108.9 L409.7,108.9 L410.6,109.0 L411.6,109.0 L412.6,109.0 L413.5,109.0 L414.5,109.0 L415.5,109.0 L416.4,109.0 L417.4,109.0 L418.4,109.0 L419.3,109.0 L420.3,109.0 L421.3,109.0 L422.2,109.0 L423.2,109.0 L424.1,109.0 L425.1,109.0 L426.1,109.1 L427.0,109.1 L428.0,109.1 L429.0,109.1 L429.9,109.1 L430.9,109.1 L431.9,109.1 L432.8,109.1 L433.8,109.1 L434.7,109.1 L435.7,109.1 L436.7,109.1 L437.6,109.1 L438.6,109.1 L439.6,109.1 L440.5,109.1 L441.5,109.1 L442.5,109.1 L443.4,109.1 L444.4,109.2 L445.4,109.2 L446.3,109.2 L447.3,109.2 L448.2,109.2 L449.2,109.2 L450.2,109.2 L451.1,109.2 L452.1,109.2 L453.1,109.2 L454.0,109.2 L455.0,109.2 L456.0,109.2 L456.9,109.2 L457.9,109.2 L458.9,109.2 L459.8,109.2 L460.8,109.2 L461.7,109.2 L462.7,109.2 L463.7,109.3 L464.6,109.3 L465.6,109.3 L466.6,109.3 L467.5,109.3 L468.5,109.3 L469.5,109.3 L470.4,109.3 L471.4,109.3 L472.3,109.3 L473.3,109.3 L474.3,109.3 L475.2,109.3 L476.2,109.3 L477.2,109.3 L478.1,109.3 L479.1,109.3 L480.1,109.3 L481.0,109.3 L482.0,109.3 L483.0,109.3 L483.9,109.3 L484.9,109.3 L485.8,109.4 L486.8,109.4 L487.8,109.4 L488.7,109.4 L489.7,109.4 L490.7,109.4 L491.6,109.4 L492.6,109.4 L493.6,109.4 L494.5,109.4 L495.5,109.4 L496.5,109.4 L497.4,109.4 L498.4,109.4 L499.3,109.4 L500.3,109.4 L501.3,109.4 L502.2,109.4 L503.2,109.4 L504.2,109.4 L505.1,109.4 L506.1,109.4 L507.1,109.4 L508.0,109.4 L509.0,109.4 L510.0,109.4 L510.9,109.4 L511.9,109.5 L512.8,109.5 L513.8,109.5 L514.8,109.5 L515.7,109.5 L516.7,109.5 L517.7,109.5 L518.6,109.5 L519.6,109.5 L520.6,109.5 L521.5,109.5 L522.5,109.5 L523.4,109.5 L524.4,109.5 L525.4,109.5 L526.3,109.5 L527.3,109.5 L528.3,109.5 L529.2,109.5 L530.2,109.5 L531.2,109.5 L532.1,109.5 L533.1,109.5 L534.1,109.5 L535.0,109.5 L536.0,109.5 L536.9,109.5 L537.9,109.5 L538.9,109.5 L539.8,109.5 L540.8,109.6 L541.8,109.6 L542.7,109.6 L543.7,109.6 L544.7,109.6 L545.6,109.6 L546.6,109.6 L547.6,109.6 L548.5,109.6 L549.5,109.6 L550.4,109.6 L551.4,109.6 L552.4,109.6 L553.3,109.6 L554.3,109.6 L555.3,109.6 L556.2,109.6 L557.2,109.6 L558.2,109.6 L559.1,109.6 L560.1,109.6 L561.1,109.6 L562.0,109.6 L563.0,109.6 L563.9,109.6" fill="none" stroke="#808080" stroke-width="5.7" stroke-linecap="round" stroke-linejoin="round"/>
<line x1="151.1" y1="360.9" x2="151.1" y2="20" stroke="#ff0000" stroke-opacity="0.4" stroke-width="5.7" stroke-dasharray="20.6 8.95"/>
</g>
<rect x="99.0" y="27.0" width="487.0" height="333.0" fill="none" stroke="#cccccc" stroke-width="2" shape-rendering="crispEdges"/>
<rect x="286.5" y="39.8" width="289.1" height="212.5" rx="3.2" ry="3.2" fill="#ffffff" fill-opacity="0.8" stroke="#cccccc" stroke-opacity="0.8" stroke-width="1.1"/>
<line x1="294.85" y1="57.80" x2="341.1" y2="57.80" stroke="#ffa500" stroke-width="5.7" stroke-linecap="round"/>
<text transform="translate(359.60,66.00) scale(1.0089,1)" x="-0.63 14.26 27.69 42.85 57.33 70.40" font-size="24.16" fill="#262626">adabkb</text>
<line x1="294.85" y1="92.30" x2="341.1" y2="92.30" stroke="#008000" stroke-width="5.7" stroke-linecap="round"/>
<text transform="translate(359.60,99.60) scale(1.0746,1)" x="0.72 8.47 21.83 35.58 49.19 61.45 74.93 82.80 94.52 99.82 111.22 126.33 142.23 155.92 170.92" font-size="24.16" fill="#262626">rndbkb[size=10]</text>
<line x1="294.85" y1="126.80" x2="341.1" y2="126.80" stroke="#0000ff" stroke-width="5.7" stroke-linecap="round"/>
<text transform="translate(359.60,134.10) scale(1.0775,1)" x="0.71 8.43 21.76 35.47 49.04 61.27 74.72 82.56 94.26 99.54 110.91 125.97 141.96 155.52 170.45" font-size="24.16" fill="#262626">rndbkb[size=63]</text>
<line x1="294.85" y1="161.30" x2="341.1" y2="161.30" stroke="#800080" stroke-width="5.7" stroke-linecap="round"/>
<text transform="translate(359.60,168.60) scale(1.0672,1)" x="0.76 8.57 22.03 35.88 49.57 61.92 75.46 83.42 95.20 100.56 112.04 127.26 143.26 156.92 170.66 185.79" font-size="24.16" fill="#262626">rndbkb[size=117]</text>
<line x1="294.85" y1="195.80" x2="341.1" y2="195.80" stroke="#a52a2a" stroke-width="5.7" stroke-linecap="round"/>
<text transform="translate(359.60,203.10) scale(1.0672,1)" x="0.76 8.57 22.03 35.88 49.57 61.92 75.46 83.42 95.20 100.56 112.04 127.26 143.26 157.01 170.57 185.79" font-size="24.16" fill="#262626">rndbkb[size=171]</text>
<line x1="294.85" y1="230.30" x2="341.1" y2="230.30" stroke="#808080" stroke-width="5.7" stroke-linecap="round"/>
<text transform="translate(359.60,237.60) scale(1.0650,1)" x="0.77 8.60 22.09 35.96 49.69 62.07 75.62 83.60 95.40 100.77 112.28 127.53 143.42 157.10 170.98 186.18" font-size="24.16" fill="#262626">rndbkb[size=225]</text>
<text transform="translate(115.01,391.20) scale(1.0391,1)" x="0.29" font-size="24.16" fill="#262626">0</text>
<text transform="translate(226.44,391.20) scale(1.0270,1)" x="0.08 14.56 28.74" font-size="24.16" fill="#262626">200</text>
<text transform="translate(353.04,391.20) scale(1.0392,1)" x="0.29 14.31 28.33" font-size="24.16" fill="#262626">400</text>
<text transform="translate(479.44,391.20) scale(1.0510,1)" x="0.21 14.07 27.94" font-size="24.16" fill="#262626">600</text>
<text transform="translate(75.40,52.80) scale(0.9980,1)" x="0.43" font-size="16.91" fill="#262626">3</text>
<text transform="translate(46.96,62.30) scale(1.0170,1)" x="0.31 14.77" font-size="24.16" fill="#262626">10</text>
<text transform="translate(75.40,115.70) scale(1.0016,1)" x="0.17" font-size="16.91" fill="#262626">2</text>
<text transform="translate(46.96,125.20) scale(1.0170,1)" x="0.31 14.77" font-size="24.16" fill="#262626">10</text>
<text transform="translate(75.40,179.40) scale(0.9925,1)" x="0.35" font-size="16.91" fill="#262626">1</text>
<text transform="translate(46.96,188.90) scale(1.0170,1)" x="0.31 14.77" font-size="24.16" fill="#262626">10</text>
<text transform="translate(75.40,242.40) scale(1.0391,1)" x="0.20" font-size="16.91" fill="#262626">0</text>
<text transform="translate(46.96,251.90) scale(1.0170,1)" x="0.31 14.77" font-size="24.16" fill="#262626">10</text>
<text transform="translate(61.97,306.90) scale(1.2701,1)" x="0.35" font-size="16.91" fill="#262626">−</text>
<text transform="translate(75.40,306.50) scale(0.9925,1)" x="0.35" font-size="16.91" fill="#262626">1</text>
<text transform="translate(33.53,316.00) scale(1.0170,1)" x="0.31 14.77" font-size="24.16" fill="#262626">10</text>
<text transform="translate(203.03,18.80) scale(1.0646,1)" x="-0.77 15.04 28.52 43.88 51.63 67.08 81.93 96.51 102.88 119.10 133.61 149.37 157.60 172.98 181.61 189.30 195.82 208.43 217.59 223.77 238.74 246.27" font-size="26.38" fill="#262626">Average Regret: Trid 4</text>
<text transform="translate(337.10,420.80) scale(1.1262,1)" x="0.52" font-size="27.30" font-style="italic" fill="#262626">t</text>
<text transform="translate(19.30,232.60) rotate(-90) translate(0.00,0) scale(1.0036,1)" x="-0.64 16.04 30.43 46.11" font-size="26.38" fill="#262626">avg </text>
<text transform="translate(19.30,179.67) rotate(-90) translate(0.00,0) scale(0.8554,1)" x="-0.36" font-size="26.38" font-style="italic" fill="#262626">R</text>
<text transform="translate(23.60,161.80) rotate(-90) translate(0.00,0) scale(1.1518,1)" x="0.28" font-size="19.11" font-style="italic" fill="#262626">t</text>
</svg>
</body></html>
